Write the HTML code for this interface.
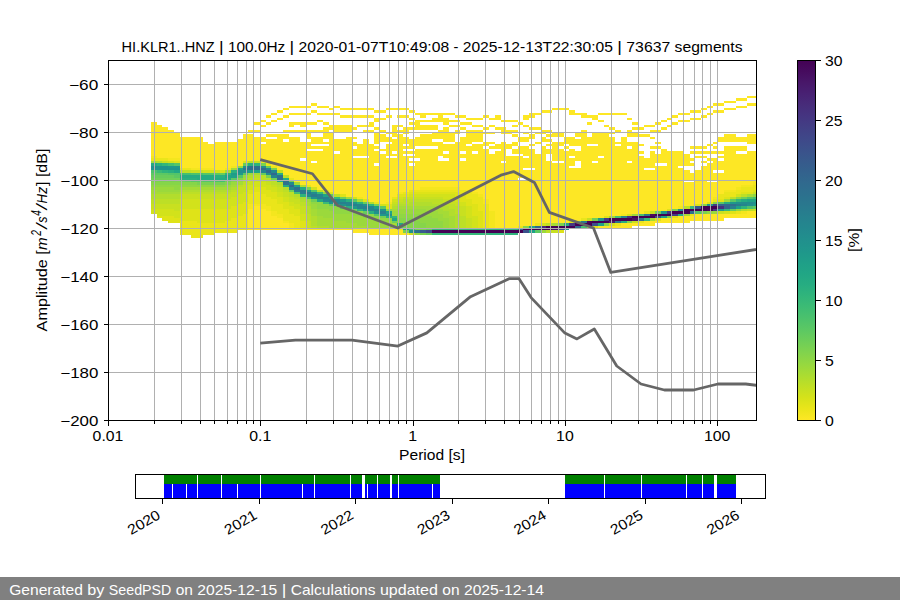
<!DOCTYPE html>
<html><head><meta charset="utf-8"><title>PPSD</title>
<style>
html,body{margin:0;padding:0;background:#fff}
body{width:900px;height:600px;overflow:hidden;font-family:"Liberation Sans",sans-serif}
svg{display:block}
text{font-family:"Liberation Sans",sans-serif;font-size:14.2px;fill:#000}
</style></head><body>
<svg width="900" height="600" viewBox="0 0 900 600">
<defs><clipPath id="axclip"><rect x="108" y="60" width="648" height="360"/></clipPath>
<linearGradient id="cbg" x1="0" y1="1" x2="0" y2="0"><stop offset="0.0000" stop-color="#fde725"/><stop offset="0.0312" stop-color="#eae51a"/><stop offset="0.0625" stop-color="#d5e21a"/><stop offset="0.0938" stop-color="#c0df25"/><stop offset="0.1250" stop-color="#aadc32"/><stop offset="0.1562" stop-color="#95d840"/><stop offset="0.1875" stop-color="#81d34d"/><stop offset="0.2188" stop-color="#6ece58"/><stop offset="0.2500" stop-color="#5cc863"/><stop offset="0.2812" stop-color="#4cc26c"/><stop offset="0.3125" stop-color="#3dbc74"/><stop offset="0.3438" stop-color="#31b57b"/><stop offset="0.3750" stop-color="#27ad81"/><stop offset="0.4062" stop-color="#21a685"/><stop offset="0.4375" stop-color="#1f9f88"/><stop offset="0.4688" stop-color="#1f978b"/><stop offset="0.5000" stop-color="#21908d"/><stop offset="0.5312" stop-color="#23888e"/><stop offset="0.5625" stop-color="#26818e"/><stop offset="0.5938" stop-color="#29798e"/><stop offset="0.6250" stop-color="#2c718e"/><stop offset="0.6562" stop-color="#306a8e"/><stop offset="0.6875" stop-color="#33628d"/><stop offset="0.7188" stop-color="#375a8c"/><stop offset="0.7500" stop-color="#3b518b"/><stop offset="0.7812" stop-color="#3f4889"/><stop offset="0.8125" stop-color="#423f85"/><stop offset="0.8438" stop-color="#453581"/><stop offset="0.8750" stop-color="#472c7a"/><stop offset="0.9062" stop-color="#482173"/><stop offset="0.9375" stop-color="#481769"/><stop offset="0.9688" stop-color="#460b5e"/><stop offset="1.0000" stop-color="#440154"/></linearGradient></defs>
<rect x="0" y="0" width="900" height="600" fill="#fff"/>
<g clip-path="url(#axclip)" shape-rendering="crispEdges">
<rect x="747" y="96" width="11" height="2" fill="#fde725"/>
<rect x="736" y="98" width="11" height="3" fill="#fde725"/>
<rect x="724" y="101" width="12" height="2" fill="#fde725"/>
<rect x="311" y="103" width="6" height="3" fill="#fde725"/>
<rect x="713" y="103" width="11" height="3" fill="#fde725"/>
<rect x="747" y="103" width="11" height="3" fill="#fde725"/>
<rect x="289" y="106" width="22" height="2" fill="#fde725"/>
<rect x="317" y="106" width="12" height="2" fill="#fde725"/>
<rect x="334" y="106" width="6" height="2" fill="#fde725"/>
<rect x="707" y="106" width="6" height="2" fill="#fde725"/>
<rect x="736" y="106" width="11" height="2" fill="#fde725"/>
<rect x="283" y="108" width="6" height="2" fill="#fde725"/>
<rect x="329" y="108" width="5" height="2" fill="#fde725"/>
<rect x="340" y="108" width="34" height="2" fill="#fde725"/>
<rect x="386" y="108" width="23" height="2" fill="#fde725"/>
<rect x="552" y="108" width="17" height="2" fill="#fde725"/>
<rect x="701" y="108" width="6" height="2" fill="#fde725"/>
<rect x="724" y="108" width="12" height="2" fill="#fde725"/>
<rect x="277" y="110" width="6" height="3" fill="#fde725"/>
<rect x="311" y="110" width="6" height="3" fill="#fde725"/>
<rect x="374" y="110" width="12" height="3" fill="#fde725"/>
<rect x="409" y="110" width="6" height="3" fill="#fde725"/>
<rect x="541" y="110" width="11" height="3" fill="#fde725"/>
<rect x="569" y="110" width="6" height="3" fill="#fde725"/>
<rect x="690" y="110" width="11" height="3" fill="#fde725"/>
<rect x="713" y="110" width="11" height="3" fill="#fde725"/>
<rect x="271" y="113" width="6" height="2" fill="#fde725"/>
<rect x="289" y="113" width="22" height="2" fill="#fde725"/>
<rect x="317" y="113" width="23" height="2" fill="#fde725"/>
<rect x="415" y="113" width="40" height="2" fill="#fde725"/>
<rect x="529" y="113" width="12" height="2" fill="#fde725"/>
<rect x="569" y="113" width="18" height="2" fill="#fde725"/>
<rect x="598" y="113" width="29" height="2" fill="#fde725"/>
<rect x="678" y="113" width="12" height="2" fill="#fde725"/>
<rect x="707" y="113" width="6" height="2" fill="#fde725"/>
<rect x="266" y="115" width="5" height="3" fill="#fde725"/>
<rect x="283" y="115" width="6" height="3" fill="#fde725"/>
<rect x="340" y="115" width="34" height="3" fill="#fde725"/>
<rect x="386" y="115" width="6" height="3" fill="#fde725"/>
<rect x="397" y="115" width="12" height="3" fill="#fde725"/>
<rect x="420" y="115" width="6" height="3" fill="#fde725"/>
<rect x="438" y="115" width="5" height="3" fill="#fde725"/>
<rect x="455" y="115" width="11" height="3" fill="#fde725"/>
<rect x="483" y="115" width="6" height="3" fill="#fde725"/>
<rect x="495" y="115" width="6" height="3" fill="#fde725"/>
<rect x="523" y="115" width="12" height="3" fill="#fde725"/>
<rect x="581" y="115" width="17" height="3" fill="#fde725"/>
<rect x="672" y="115" width="6" height="3" fill="#fde725"/>
<rect x="701" y="115" width="6" height="3" fill="#fde725"/>
<rect x="277" y="118" width="6" height="2" fill="#fde725"/>
<rect x="374" y="118" width="12" height="2" fill="#fde725"/>
<rect x="409" y="118" width="6" height="2" fill="#fde725"/>
<rect x="432" y="118" width="17" height="2" fill="#fde725"/>
<rect x="466" y="118" width="17" height="2" fill="#fde725"/>
<rect x="489" y="118" width="12" height="2" fill="#fde725"/>
<rect x="523" y="118" width="6" height="2" fill="#fde725"/>
<rect x="592" y="118" width="6" height="2" fill="#fde725"/>
<rect x="627" y="118" width="5" height="2" fill="#fde725"/>
<rect x="667" y="118" width="5" height="2" fill="#fde725"/>
<rect x="690" y="118" width="11" height="2" fill="#fde725"/>
<rect x="260" y="120" width="6" height="2" fill="#fde725"/>
<rect x="271" y="120" width="6" height="2" fill="#fde725"/>
<rect x="317" y="120" width="6" height="2" fill="#fde725"/>
<rect x="374" y="120" width="6" height="2" fill="#fde725"/>
<rect x="415" y="120" width="45" height="2" fill="#fde725"/>
<rect x="501" y="120" width="17" height="2" fill="#fde725"/>
<rect x="598" y="120" width="6" height="2" fill="#fde725"/>
<rect x="661" y="120" width="6" height="2" fill="#fde725"/>
<rect x="678" y="120" width="12" height="2" fill="#fde725"/>
<rect x="151" y="122" width="6" height="3" fill="#fde725"/>
<rect x="254" y="122" width="6" height="3" fill="#fde725"/>
<rect x="266" y="122" width="5" height="3" fill="#fde725"/>
<rect x="289" y="122" width="28" height="3" fill="#fde725"/>
<rect x="323" y="122" width="6" height="3" fill="#fde725"/>
<rect x="369" y="122" width="5" height="3" fill="#fde725"/>
<rect x="409" y="122" width="11" height="3" fill="#fde725"/>
<rect x="443" y="122" width="6" height="3" fill="#fde725"/>
<rect x="460" y="122" width="12" height="3" fill="#fde725"/>
<rect x="518" y="122" width="5" height="3" fill="#fde725"/>
<rect x="587" y="122" width="5" height="3" fill="#fde725"/>
<rect x="632" y="122" width="6" height="3" fill="#fde725"/>
<rect x="655" y="122" width="6" height="3" fill="#fde725"/>
<rect x="672" y="122" width="6" height="3" fill="#fde725"/>
<rect x="151" y="125" width="11" height="2" fill="#fde725"/>
<rect x="260" y="125" width="6" height="2" fill="#fde725"/>
<rect x="289" y="125" width="5" height="2" fill="#fde725"/>
<rect x="300" y="125" width="6" height="2" fill="#fde725"/>
<rect x="329" y="125" width="23" height="2" fill="#fde725"/>
<rect x="357" y="125" width="17" height="2" fill="#fde725"/>
<rect x="392" y="125" width="11" height="2" fill="#fde725"/>
<rect x="415" y="125" width="23" height="2" fill="#fde725"/>
<rect x="449" y="125" width="11" height="2" fill="#fde725"/>
<rect x="472" y="125" width="11" height="2" fill="#fde725"/>
<rect x="489" y="125" width="6" height="2" fill="#fde725"/>
<rect x="512" y="125" width="6" height="2" fill="#fde725"/>
<rect x="523" y="125" width="6" height="2" fill="#fde725"/>
<rect x="604" y="125" width="5" height="2" fill="#fde725"/>
<rect x="644" y="125" width="11" height="2" fill="#fde725"/>
<rect x="667" y="125" width="5" height="2" fill="#fde725"/>
<rect x="151" y="127" width="17" height="3" fill="#fde725"/>
<rect x="323" y="127" width="34" height="3" fill="#fde725"/>
<rect x="374" y="127" width="6" height="3" fill="#fde725"/>
<rect x="392" y="127" width="5" height="3" fill="#fde725"/>
<rect x="403" y="127" width="35" height="3" fill="#fde725"/>
<rect x="443" y="127" width="6" height="3" fill="#fde725"/>
<rect x="460" y="127" width="6" height="3" fill="#fde725"/>
<rect x="483" y="127" width="6" height="3" fill="#fde725"/>
<rect x="495" y="127" width="11" height="3" fill="#fde725"/>
<rect x="529" y="127" width="12" height="3" fill="#fde725"/>
<rect x="609" y="127" width="6" height="3" fill="#fde725"/>
<rect x="632" y="127" width="12" height="3" fill="#fde725"/>
<rect x="661" y="127" width="6" height="3" fill="#fde725"/>
<rect x="151" y="130" width="23" height="2" fill="#fde725"/>
<rect x="248" y="130" width="12" height="2" fill="#fde725"/>
<rect x="283" y="130" width="46" height="2" fill="#fde725"/>
<rect x="334" y="130" width="18" height="2" fill="#fde725"/>
<rect x="363" y="130" width="11" height="2" fill="#fde725"/>
<rect x="380" y="130" width="6" height="2" fill="#fde725"/>
<rect x="392" y="130" width="17" height="2" fill="#fde725"/>
<rect x="438" y="130" width="11" height="2" fill="#fde725"/>
<rect x="455" y="130" width="5" height="2" fill="#fde725"/>
<rect x="466" y="130" width="17" height="2" fill="#fde725"/>
<rect x="501" y="130" width="17" height="2" fill="#fde725"/>
<rect x="541" y="130" width="11" height="2" fill="#fde725"/>
<rect x="581" y="130" width="6" height="2" fill="#fde725"/>
<rect x="615" y="130" width="6" height="2" fill="#fde725"/>
<rect x="627" y="130" width="5" height="2" fill="#fde725"/>
<rect x="650" y="130" width="11" height="2" fill="#fde725"/>
<rect x="151" y="132" width="29" height="2" fill="#fde725"/>
<rect x="306" y="132" width="5" height="2" fill="#fde725"/>
<rect x="323" y="132" width="11" height="2" fill="#fde725"/>
<rect x="374" y="132" width="6" height="2" fill="#fde725"/>
<rect x="386" y="132" width="11" height="2" fill="#fde725"/>
<rect x="403" y="132" width="6" height="2" fill="#fde725"/>
<rect x="432" y="132" width="28" height="2" fill="#fde725"/>
<rect x="466" y="132" width="29" height="2" fill="#fde725"/>
<rect x="501" y="132" width="11" height="2" fill="#fde725"/>
<rect x="523" y="132" width="6" height="2" fill="#fde725"/>
<rect x="535" y="132" width="11" height="2" fill="#fde725"/>
<rect x="552" y="132" width="12" height="2" fill="#fde725"/>
<rect x="575" y="132" width="12" height="2" fill="#fde725"/>
<rect x="592" y="132" width="23" height="2" fill="#fde725"/>
<rect x="627" y="132" width="11" height="2" fill="#fde725"/>
<rect x="151" y="134" width="29" height="3" fill="#fde725"/>
<rect x="243" y="134" width="11" height="3" fill="#fde725"/>
<rect x="266" y="134" width="23" height="3" fill="#fde725"/>
<rect x="306" y="134" width="5" height="3" fill="#fde725"/>
<rect x="323" y="134" width="11" height="3" fill="#fde725"/>
<rect x="374" y="134" width="12" height="3" fill="#fde725"/>
<rect x="392" y="134" width="11" height="3" fill="#fde725"/>
<rect x="420" y="134" width="35" height="3" fill="#fde725"/>
<rect x="466" y="134" width="17" height="3" fill="#fde725"/>
<rect x="512" y="134" width="6" height="3" fill="#fde725"/>
<rect x="529" y="134" width="6" height="3" fill="#fde725"/>
<rect x="546" y="134" width="18" height="3" fill="#fde725"/>
<rect x="575" y="134" width="12" height="3" fill="#fde725"/>
<rect x="592" y="134" width="17" height="3" fill="#fde725"/>
<rect x="627" y="134" width="23" height="3" fill="#fde725"/>
<rect x="724" y="134" width="12" height="3" fill="#fde725"/>
<rect x="747" y="134" width="11" height="3" fill="#fde725"/>
<rect x="151" y="137" width="52" height="2" fill="#fde725"/>
<rect x="243" y="137" width="23" height="2" fill="#fde725"/>
<rect x="277" y="137" width="23" height="2" fill="#fde725"/>
<rect x="306" y="137" width="28" height="2" fill="#fde725"/>
<rect x="346" y="137" width="11" height="2" fill="#fde725"/>
<rect x="374" y="137" width="18" height="2" fill="#fde725"/>
<rect x="397" y="137" width="12" height="2" fill="#fde725"/>
<rect x="415" y="137" width="40" height="2" fill="#fde725"/>
<rect x="460" y="137" width="23" height="2" fill="#fde725"/>
<rect x="518" y="137" width="17" height="2" fill="#fde725"/>
<rect x="541" y="137" width="5" height="2" fill="#fde725"/>
<rect x="564" y="137" width="11" height="2" fill="#fde725"/>
<rect x="581" y="137" width="34" height="2" fill="#fde725"/>
<rect x="621" y="137" width="6" height="2" fill="#fde725"/>
<rect x="650" y="137" width="5" height="2" fill="#fde725"/>
<rect x="718" y="137" width="40" height="2" fill="#fde725"/>
<rect x="151" y="139" width="52" height="3" fill="#fde725"/>
<rect x="237" y="139" width="46" height="3" fill="#fde725"/>
<rect x="289" y="139" width="11" height="3" fill="#fde725"/>
<rect x="311" y="139" width="12" height="3" fill="#fde725"/>
<rect x="329" y="139" width="23" height="3" fill="#fde725"/>
<rect x="363" y="139" width="6" height="3" fill="#fde725"/>
<rect x="374" y="139" width="58" height="3" fill="#fde725"/>
<rect x="443" y="139" width="12" height="3" fill="#fde725"/>
<rect x="460" y="139" width="23" height="3" fill="#fde725"/>
<rect x="518" y="139" width="11" height="3" fill="#fde725"/>
<rect x="541" y="139" width="11" height="3" fill="#fde725"/>
<rect x="564" y="139" width="51" height="3" fill="#fde725"/>
<rect x="621" y="139" width="6" height="3" fill="#fde725"/>
<rect x="718" y="139" width="40" height="3" fill="#fde725"/>
<rect x="151" y="142" width="57" height="2" fill="#fde725"/>
<rect x="214" y="142" width="46" height="2" fill="#fde725"/>
<rect x="266" y="142" width="91" height="2" fill="#fde725"/>
<rect x="363" y="142" width="6" height="2" fill="#fde725"/>
<rect x="374" y="142" width="6" height="2" fill="#fde725"/>
<rect x="392" y="142" width="51" height="2" fill="#fde725"/>
<rect x="455" y="142" width="17" height="2" fill="#fde725"/>
<rect x="483" y="142" width="12" height="2" fill="#fde725"/>
<rect x="501" y="142" width="5" height="2" fill="#fde725"/>
<rect x="512" y="142" width="6" height="2" fill="#fde725"/>
<rect x="535" y="142" width="6" height="2" fill="#fde725"/>
<rect x="552" y="142" width="86" height="2" fill="#fde725"/>
<rect x="655" y="142" width="6" height="2" fill="#fde725"/>
<rect x="713" y="142" width="5" height="2" fill="#fde725"/>
<rect x="747" y="142" width="11" height="2" fill="#fde725"/>
<rect x="151" y="144" width="160" height="2" fill="#fde725"/>
<rect x="329" y="144" width="45" height="2" fill="#fde725"/>
<rect x="386" y="144" width="17" height="2" fill="#fde725"/>
<rect x="409" y="144" width="57" height="2" fill="#fde725"/>
<rect x="472" y="144" width="17" height="2" fill="#fde725"/>
<rect x="495" y="144" width="23" height="2" fill="#fde725"/>
<rect x="529" y="144" width="6" height="2" fill="#fde725"/>
<rect x="546" y="144" width="18" height="2" fill="#fde725"/>
<rect x="569" y="144" width="18" height="2" fill="#fde725"/>
<rect x="598" y="144" width="17" height="2" fill="#fde725"/>
<rect x="621" y="144" width="23" height="2" fill="#fde725"/>
<rect x="707" y="144" width="6" height="2" fill="#fde725"/>
<rect x="151" y="146" width="201" height="3" fill="#fde725"/>
<rect x="357" y="146" width="23" height="3" fill="#fde725"/>
<rect x="386" y="146" width="29" height="3" fill="#fde725"/>
<rect x="438" y="146" width="45" height="3" fill="#fde725"/>
<rect x="489" y="146" width="23" height="3" fill="#fde725"/>
<rect x="518" y="146" width="11" height="3" fill="#fde725"/>
<rect x="541" y="146" width="5" height="3" fill="#fde725"/>
<rect x="552" y="146" width="6" height="3" fill="#fde725"/>
<rect x="564" y="146" width="5" height="3" fill="#fde725"/>
<rect x="581" y="146" width="46" height="3" fill="#fde725"/>
<rect x="632" y="146" width="6" height="3" fill="#fde725"/>
<rect x="650" y="146" width="11" height="3" fill="#fde725"/>
<rect x="690" y="146" width="17" height="3" fill="#fde725"/>
<rect x="713" y="146" width="5" height="3" fill="#fde725"/>
<rect x="724" y="146" width="23" height="3" fill="#fde725"/>
<rect x="151" y="149" width="155" height="2" fill="#fde725"/>
<rect x="323" y="149" width="51" height="2" fill="#fde725"/>
<rect x="380" y="149" width="23" height="2" fill="#fde725"/>
<rect x="415" y="149" width="74" height="2" fill="#fde725"/>
<rect x="501" y="149" width="5" height="2" fill="#fde725"/>
<rect x="512" y="149" width="23" height="2" fill="#fde725"/>
<rect x="541" y="149" width="23" height="2" fill="#fde725"/>
<rect x="569" y="149" width="6" height="2" fill="#fde725"/>
<rect x="581" y="149" width="57" height="2" fill="#fde725"/>
<rect x="661" y="149" width="6" height="2" fill="#fde725"/>
<rect x="724" y="149" width="23" height="2" fill="#fde725"/>
<rect x="151" y="151" width="183" height="3" fill="#fde725"/>
<rect x="340" y="151" width="40" height="3" fill="#fde725"/>
<rect x="386" y="151" width="6" height="3" fill="#fde725"/>
<rect x="397" y="151" width="46" height="3" fill="#fde725"/>
<rect x="449" y="151" width="11" height="3" fill="#fde725"/>
<rect x="466" y="151" width="6" height="3" fill="#fde725"/>
<rect x="478" y="151" width="11" height="3" fill="#fde725"/>
<rect x="495" y="151" width="11" height="3" fill="#fde725"/>
<rect x="512" y="151" width="23" height="3" fill="#fde725"/>
<rect x="541" y="151" width="103" height="3" fill="#fde725"/>
<rect x="650" y="151" width="5" height="3" fill="#fde725"/>
<rect x="661" y="151" width="23" height="3" fill="#fde725"/>
<rect x="690" y="151" width="46" height="3" fill="#fde725"/>
<rect x="747" y="151" width="11" height="3" fill="#fde725"/>
<rect x="151" y="154" width="252" height="2" fill="#fde725"/>
<rect x="415" y="154" width="91" height="2" fill="#fde725"/>
<rect x="523" y="154" width="23" height="2" fill="#fde725"/>
<rect x="552" y="154" width="86" height="2" fill="#fde725"/>
<rect x="650" y="154" width="40" height="2" fill="#fde725"/>
<rect x="724" y="154" width="34" height="2" fill="#fde725"/>
<rect x="151" y="156" width="6" height="2" fill="#f4e61e"/>
<rect x="157" y="156" width="195" height="2" fill="#fde725"/>
<rect x="369" y="156" width="17" height="2" fill="#fde725"/>
<rect x="397" y="156" width="41" height="2" fill="#fde725"/>
<rect x="443" y="156" width="80" height="2" fill="#fde725"/>
<rect x="529" y="156" width="17" height="2" fill="#fde725"/>
<rect x="552" y="156" width="17" height="2" fill="#fde725"/>
<rect x="575" y="156" width="23" height="2" fill="#fde725"/>
<rect x="604" y="156" width="40" height="2" fill="#fde725"/>
<rect x="650" y="156" width="40" height="2" fill="#fde725"/>
<rect x="695" y="156" width="12" height="2" fill="#fde725"/>
<rect x="718" y="156" width="40" height="2" fill="#fde725"/>
<rect x="151" y="158" width="17" height="3" fill="#eae51a"/>
<rect x="168" y="158" width="12" height="3" fill="#f4e61e"/>
<rect x="180" y="158" width="120" height="3" fill="#fde725"/>
<rect x="306" y="158" width="103" height="3" fill="#fde725"/>
<rect x="420" y="158" width="18" height="3" fill="#fde725"/>
<rect x="449" y="158" width="11" height="3" fill="#fde725"/>
<rect x="466" y="158" width="80" height="3" fill="#fde725"/>
<rect x="552" y="158" width="143" height="3" fill="#fde725"/>
<rect x="707" y="158" width="11" height="3" fill="#fde725"/>
<rect x="724" y="158" width="34" height="3" fill="#fde725"/>
<rect x="151" y="161" width="6" height="2" fill="#a5db36"/>
<rect x="157" y="161" width="5" height="2" fill="#b2dd2d"/>
<rect x="162" y="161" width="6" height="2" fill="#c8e020"/>
<rect x="168" y="161" width="6" height="2" fill="#d2e21b"/>
<rect x="174" y="161" width="6" height="2" fill="#dfe318"/>
<rect x="180" y="161" width="63" height="2" fill="#fde725"/>
<rect x="243" y="161" width="5" height="2" fill="#dfe318"/>
<rect x="248" y="161" width="6" height="2" fill="#bddf26"/>
<rect x="254" y="161" width="6" height="2" fill="#c8e020"/>
<rect x="260" y="161" width="6" height="2" fill="#eae51a"/>
<rect x="266" y="161" width="45" height="2" fill="#fde725"/>
<rect x="317" y="161" width="184" height="2" fill="#fde725"/>
<rect x="506" y="161" width="46" height="2" fill="#fde725"/>
<rect x="564" y="161" width="11" height="2" fill="#fde725"/>
<rect x="581" y="161" width="11" height="2" fill="#fde725"/>
<rect x="598" y="161" width="29" height="2" fill="#fde725"/>
<rect x="632" y="161" width="58" height="2" fill="#fde725"/>
<rect x="701" y="161" width="6" height="2" fill="#fde725"/>
<rect x="713" y="161" width="45" height="2" fill="#fde725"/>
<rect x="151" y="163" width="6" height="3" fill="#22a884"/>
<rect x="157" y="163" width="5" height="3" fill="#2ab07f"/>
<rect x="162" y="163" width="6" height="3" fill="#35b779"/>
<rect x="168" y="163" width="6" height="3" fill="#44bf70"/>
<rect x="174" y="163" width="6" height="3" fill="#54c568"/>
<rect x="180" y="163" width="63" height="3" fill="#fde725"/>
<rect x="243" y="163" width="5" height="3" fill="#67cc5c"/>
<rect x="248" y="163" width="6" height="3" fill="#2ab07f"/>
<rect x="254" y="163" width="6" height="3" fill="#2fb47c"/>
<rect x="260" y="163" width="6" height="3" fill="#7ad151"/>
<rect x="266" y="163" width="5" height="3" fill="#eae51a"/>
<rect x="271" y="163" width="103" height="3" fill="#fde725"/>
<rect x="380" y="163" width="29" height="3" fill="#fde725"/>
<rect x="415" y="163" width="160" height="3" fill="#fde725"/>
<rect x="581" y="163" width="74" height="3" fill="#fde725"/>
<rect x="667" y="163" width="28" height="3" fill="#fde725"/>
<rect x="707" y="163" width="51" height="3" fill="#fde725"/>
<rect x="151" y="166" width="6" height="2" fill="#21908d"/>
<rect x="157" y="166" width="11" height="2" fill="#1f948c"/>
<rect x="168" y="166" width="12" height="2" fill="#1f988b"/>
<rect x="180" y="166" width="51" height="2" fill="#fde725"/>
<rect x="231" y="166" width="6" height="2" fill="#f4e61e"/>
<rect x="237" y="166" width="6" height="2" fill="#9bd93c"/>
<rect x="243" y="166" width="5" height="2" fill="#21908d"/>
<rect x="248" y="166" width="12" height="2" fill="#2d708e"/>
<rect x="260" y="166" width="6" height="2" fill="#228c8d"/>
<rect x="266" y="166" width="5" height="2" fill="#67cc5c"/>
<rect x="271" y="166" width="6" height="2" fill="#eae51a"/>
<rect x="277" y="166" width="292" height="2" fill="#fde725"/>
<rect x="581" y="166" width="97" height="2" fill="#fde725"/>
<rect x="701" y="166" width="57" height="2" fill="#fde725"/>
<rect x="151" y="168" width="29" height="2" fill="#1f948c"/>
<rect x="180" y="168" width="11" height="2" fill="#eae51a"/>
<rect x="191" y="168" width="23" height="2" fill="#f4e61e"/>
<rect x="214" y="168" width="11" height="2" fill="#fde725"/>
<rect x="225" y="168" width="6" height="2" fill="#f4e61e"/>
<rect x="231" y="168" width="6" height="2" fill="#a5db36"/>
<rect x="237" y="168" width="6" height="2" fill="#20a486"/>
<rect x="243" y="168" width="5" height="2" fill="#2a788e"/>
<rect x="248" y="168" width="12" height="2" fill="#2f6c8e"/>
<rect x="260" y="168" width="6" height="2" fill="#31688e"/>
<rect x="266" y="168" width="5" height="2" fill="#25848e"/>
<rect x="271" y="168" width="6" height="2" fill="#7ad151"/>
<rect x="277" y="168" width="246" height="2" fill="#fde725"/>
<rect x="535" y="168" width="109" height="2" fill="#fde725"/>
<rect x="655" y="168" width="29" height="2" fill="#fde725"/>
<rect x="701" y="168" width="57" height="2" fill="#fde725"/>
<rect x="151" y="170" width="6" height="3" fill="#4cc26c"/>
<rect x="157" y="170" width="5" height="3" fill="#3bbb75"/>
<rect x="162" y="170" width="6" height="3" fill="#2fb47c"/>
<rect x="168" y="170" width="6" height="3" fill="#2ab07f"/>
<rect x="174" y="170" width="6" height="3" fill="#22a884"/>
<rect x="180" y="170" width="11" height="3" fill="#bddf26"/>
<rect x="191" y="170" width="12" height="3" fill="#c8e020"/>
<rect x="203" y="170" width="17" height="3" fill="#d2e21b"/>
<rect x="220" y="170" width="5" height="3" fill="#dfe318"/>
<rect x="225" y="170" width="6" height="3" fill="#a5db36"/>
<rect x="231" y="170" width="6" height="3" fill="#2ab07f"/>
<rect x="237" y="170" width="11" height="3" fill="#21908d"/>
<rect x="248" y="170" width="6" height="3" fill="#1e9c89"/>
<rect x="254" y="170" width="6" height="3" fill="#20a486"/>
<rect x="260" y="170" width="6" height="3" fill="#25848e"/>
<rect x="266" y="170" width="5" height="3" fill="#31688e"/>
<rect x="271" y="170" width="6" height="3" fill="#23888e"/>
<rect x="277" y="170" width="6" height="3" fill="#bddf26"/>
<rect x="283" y="170" width="407" height="3" fill="#fde725"/>
<rect x="695" y="170" width="18" height="3" fill="#fde725"/>
<rect x="724" y="170" width="34" height="3" fill="#fde725"/>
<rect x="151" y="173" width="17" height="2" fill="#5cc863"/>
<rect x="168" y="173" width="12" height="2" fill="#54c568"/>
<rect x="180" y="173" width="11" height="2" fill="#44bf70"/>
<rect x="191" y="173" width="12" height="2" fill="#4cc26c"/>
<rect x="203" y="173" width="11" height="2" fill="#54c568"/>
<rect x="214" y="173" width="6" height="2" fill="#5cc863"/>
<rect x="220" y="173" width="5" height="2" fill="#67cc5c"/>
<rect x="225" y="173" width="6" height="2" fill="#2fb47c"/>
<rect x="231" y="173" width="6" height="2" fill="#1e9c89"/>
<rect x="237" y="173" width="6" height="2" fill="#1f988b"/>
<rect x="243" y="173" width="5" height="2" fill="#5cc863"/>
<rect x="248" y="173" width="6" height="2" fill="#9bd93c"/>
<rect x="254" y="173" width="6" height="2" fill="#a5db36"/>
<rect x="260" y="173" width="6" height="2" fill="#67cc5c"/>
<rect x="266" y="173" width="5" height="2" fill="#228c8d"/>
<rect x="271" y="173" width="6" height="2" fill="#31688e"/>
<rect x="277" y="173" width="6" height="2" fill="#2ab07f"/>
<rect x="283" y="173" width="475" height="2" fill="#fde725"/>
<rect x="151" y="175" width="23" height="3" fill="#67cc5c"/>
<rect x="174" y="175" width="6" height="3" fill="#5cc863"/>
<rect x="180" y="175" width="34" height="3" fill="#25ac82"/>
<rect x="214" y="175" width="11" height="3" fill="#2ab07f"/>
<rect x="225" y="175" width="6" height="3" fill="#20a486"/>
<rect x="231" y="175" width="6" height="3" fill="#1fa188"/>
<rect x="237" y="175" width="6" height="3" fill="#54c568"/>
<rect x="243" y="175" width="5" height="3" fill="#9bd93c"/>
<rect x="248" y="175" width="6" height="3" fill="#b2dd2d"/>
<rect x="254" y="175" width="12" height="3" fill="#bddf26"/>
<rect x="266" y="175" width="5" height="3" fill="#7ad151"/>
<rect x="271" y="175" width="6" height="3" fill="#25848e"/>
<rect x="277" y="175" width="6" height="3" fill="#2d708e"/>
<rect x="283" y="175" width="6" height="3" fill="#bddf26"/>
<rect x="289" y="175" width="469" height="3" fill="#fde725"/>
<rect x="151" y="178" width="29" height="2" fill="#70cf57"/>
<rect x="180" y="178" width="17" height="2" fill="#2ab07f"/>
<rect x="197" y="178" width="34" height="2" fill="#25ac82"/>
<rect x="231" y="178" width="6" height="2" fill="#5cc863"/>
<rect x="237" y="178" width="6" height="2" fill="#86d549"/>
<rect x="243" y="178" width="5" height="2" fill="#a5db36"/>
<rect x="248" y="178" width="6" height="2" fill="#bddf26"/>
<rect x="254" y="178" width="6" height="2" fill="#c8e020"/>
<rect x="260" y="178" width="11" height="2" fill="#bddf26"/>
<rect x="271" y="178" width="6" height="2" fill="#70cf57"/>
<rect x="277" y="178" width="6" height="2" fill="#2f6c8e"/>
<rect x="283" y="178" width="6" height="2" fill="#25ac82"/>
<rect x="289" y="178" width="5" height="2" fill="#eae51a"/>
<rect x="294" y="178" width="224" height="2" fill="#fde725"/>
<rect x="529" y="178" width="229" height="2" fill="#fde725"/>
<rect x="151" y="180" width="29" height="2" fill="#7ad151"/>
<rect x="180" y="180" width="5" height="2" fill="#70cf57"/>
<rect x="185" y="180" width="6" height="2" fill="#67cc5c"/>
<rect x="191" y="180" width="12" height="2" fill="#5cc863"/>
<rect x="203" y="180" width="11" height="2" fill="#54c568"/>
<rect x="214" y="180" width="6" height="2" fill="#4cc26c"/>
<rect x="220" y="180" width="5" height="2" fill="#44bf70"/>
<rect x="225" y="180" width="6" height="2" fill="#70cf57"/>
<rect x="231" y="180" width="6" height="2" fill="#86d549"/>
<rect x="237" y="180" width="6" height="2" fill="#9bd93c"/>
<rect x="243" y="180" width="5" height="2" fill="#b2dd2d"/>
<rect x="248" y="180" width="18" height="2" fill="#c8e020"/>
<rect x="266" y="180" width="11" height="2" fill="#bddf26"/>
<rect x="277" y="180" width="6" height="2" fill="#25ac82"/>
<rect x="283" y="180" width="6" height="2" fill="#2d708e"/>
<rect x="289" y="180" width="5" height="2" fill="#70cf57"/>
<rect x="294" y="180" width="390" height="2" fill="#fde725"/>
<rect x="695" y="180" width="12" height="2" fill="#fde725"/>
<rect x="718" y="180" width="40" height="2" fill="#fde725"/>
<rect x="151" y="182" width="46" height="3" fill="#86d549"/>
<rect x="197" y="182" width="28" height="3" fill="#7ad151"/>
<rect x="225" y="182" width="6" height="3" fill="#86d549"/>
<rect x="231" y="182" width="6" height="3" fill="#9bd93c"/>
<rect x="237" y="182" width="6" height="3" fill="#a5db36"/>
<rect x="243" y="182" width="5" height="3" fill="#bddf26"/>
<rect x="248" y="182" width="6" height="3" fill="#c8e020"/>
<rect x="254" y="182" width="12" height="3" fill="#d2e21b"/>
<rect x="266" y="182" width="5" height="3" fill="#c8e020"/>
<rect x="271" y="182" width="6" height="3" fill="#bddf26"/>
<rect x="277" y="182" width="6" height="3" fill="#b2dd2d"/>
<rect x="283" y="182" width="6" height="3" fill="#2d708e"/>
<rect x="289" y="182" width="5" height="3" fill="#23888e"/>
<rect x="294" y="182" width="6" height="3" fill="#a5db36"/>
<rect x="300" y="182" width="453" height="3" fill="#fde725"/>
<rect x="753" y="182" width="5" height="3" fill="#f4e61e"/>
<rect x="151" y="185" width="74" height="2" fill="#90d743"/>
<rect x="225" y="185" width="6" height="2" fill="#9bd93c"/>
<rect x="231" y="185" width="6" height="2" fill="#a5db36"/>
<rect x="237" y="185" width="6" height="2" fill="#bddf26"/>
<rect x="243" y="185" width="5" height="2" fill="#c8e020"/>
<rect x="248" y="185" width="23" height="2" fill="#d2e21b"/>
<rect x="271" y="185" width="6" height="2" fill="#c8e020"/>
<rect x="277" y="185" width="6" height="2" fill="#bddf26"/>
<rect x="283" y="185" width="6" height="2" fill="#25ac82"/>
<rect x="289" y="185" width="5" height="2" fill="#31688e"/>
<rect x="294" y="185" width="6" height="2" fill="#1fa188"/>
<rect x="300" y="185" width="6" height="2" fill="#b2dd2d"/>
<rect x="306" y="185" width="5" height="2" fill="#eae51a"/>
<rect x="311" y="185" width="430" height="2" fill="#fde725"/>
<rect x="741" y="185" width="12" height="2" fill="#f4e61e"/>
<rect x="753" y="185" width="5" height="2" fill="#eae51a"/>
<rect x="151" y="187" width="23" height="3" fill="#9bd93c"/>
<rect x="174" y="187" width="6" height="3" fill="#90d743"/>
<rect x="180" y="187" width="51" height="3" fill="#a5db36"/>
<rect x="231" y="187" width="6" height="3" fill="#b2dd2d"/>
<rect x="237" y="187" width="11" height="3" fill="#c8e020"/>
<rect x="248" y="187" width="6" height="3" fill="#d2e21b"/>
<rect x="254" y="187" width="12" height="3" fill="#dfe318"/>
<rect x="266" y="187" width="11" height="3" fill="#d2e21b"/>
<rect x="277" y="187" width="6" height="3" fill="#c8e020"/>
<rect x="283" y="187" width="6" height="3" fill="#b2dd2d"/>
<rect x="289" y="187" width="5" height="3" fill="#23888e"/>
<rect x="294" y="187" width="6" height="3" fill="#2d708e"/>
<rect x="300" y="187" width="6" height="3" fill="#25ac82"/>
<rect x="306" y="187" width="5" height="3" fill="#7ad151"/>
<rect x="311" y="187" width="6" height="3" fill="#d2e21b"/>
<rect x="317" y="187" width="103" height="3" fill="#fde725"/>
<rect x="420" y="187" width="40" height="3" fill="#f4e61e"/>
<rect x="460" y="187" width="276" height="3" fill="#fde725"/>
<rect x="736" y="187" width="5" height="3" fill="#f4e61e"/>
<rect x="741" y="187" width="17" height="3" fill="#eae51a"/>
<rect x="151" y="190" width="6" height="2" fill="#a5db36"/>
<rect x="157" y="190" width="23" height="2" fill="#9bd93c"/>
<rect x="180" y="190" width="51" height="2" fill="#b2dd2d"/>
<rect x="231" y="190" width="6" height="2" fill="#bddf26"/>
<rect x="237" y="190" width="11" height="2" fill="#c8e020"/>
<rect x="248" y="190" width="23" height="2" fill="#dfe318"/>
<rect x="271" y="190" width="6" height="2" fill="#d2e21b"/>
<rect x="277" y="190" width="6" height="2" fill="#c8e020"/>
<rect x="283" y="190" width="6" height="2" fill="#bddf26"/>
<rect x="289" y="190" width="5" height="2" fill="#70cf57"/>
<rect x="294" y="190" width="6" height="2" fill="#287c8e"/>
<rect x="300" y="190" width="6" height="2" fill="#2a788e"/>
<rect x="306" y="190" width="5" height="2" fill="#1f988b"/>
<rect x="311" y="190" width="6" height="2" fill="#54c568"/>
<rect x="317" y="190" width="6" height="2" fill="#bddf26"/>
<rect x="323" y="190" width="6" height="2" fill="#eae51a"/>
<rect x="329" y="190" width="80" height="2" fill="#fde725"/>
<rect x="409" y="190" width="57" height="2" fill="#eae51a"/>
<rect x="466" y="190" width="6" height="2" fill="#f4e61e"/>
<rect x="472" y="190" width="252" height="2" fill="#fde725"/>
<rect x="724" y="190" width="12" height="2" fill="#f4e61e"/>
<rect x="736" y="190" width="17" height="2" fill="#eae51a"/>
<rect x="753" y="190" width="5" height="2" fill="#dfe318"/>
<rect x="151" y="192" width="29" height="2" fill="#a5db36"/>
<rect x="180" y="192" width="51" height="2" fill="#bddf26"/>
<rect x="231" y="192" width="12" height="2" fill="#c8e020"/>
<rect x="243" y="192" width="5" height="2" fill="#d2e21b"/>
<rect x="248" y="192" width="6" height="2" fill="#dfe318"/>
<rect x="254" y="192" width="6" height="2" fill="#eae51a"/>
<rect x="260" y="192" width="17" height="2" fill="#dfe318"/>
<rect x="277" y="192" width="6" height="2" fill="#d2e21b"/>
<rect x="283" y="192" width="6" height="2" fill="#c8e020"/>
<rect x="289" y="192" width="5" height="2" fill="#bddf26"/>
<rect x="294" y="192" width="6" height="2" fill="#44bf70"/>
<rect x="300" y="192" width="6" height="2" fill="#287c8e"/>
<rect x="306" y="192" width="5" height="2" fill="#2a788e"/>
<rect x="311" y="192" width="6" height="2" fill="#228c8d"/>
<rect x="317" y="192" width="6" height="2" fill="#35b779"/>
<rect x="323" y="192" width="6" height="2" fill="#90d743"/>
<rect x="329" y="192" width="5" height="2" fill="#dfe318"/>
<rect x="334" y="192" width="63" height="2" fill="#fde725"/>
<rect x="397" y="192" width="6" height="2" fill="#f4e61e"/>
<rect x="403" y="192" width="6" height="2" fill="#eae51a"/>
<rect x="409" y="192" width="51" height="2" fill="#dfe318"/>
<rect x="460" y="192" width="12" height="2" fill="#eae51a"/>
<rect x="472" y="192" width="6" height="2" fill="#f4e61e"/>
<rect x="478" y="192" width="246" height="2" fill="#fde725"/>
<rect x="724" y="192" width="17" height="2" fill="#eae51a"/>
<rect x="741" y="192" width="12" height="2" fill="#dfe318"/>
<rect x="753" y="192" width="5" height="2" fill="#c8e020"/>
<rect x="151" y="194" width="29" height="3" fill="#b2dd2d"/>
<rect x="180" y="194" width="57" height="3" fill="#c8e020"/>
<rect x="237" y="194" width="11" height="3" fill="#d2e21b"/>
<rect x="248" y="194" width="18" height="3" fill="#eae51a"/>
<rect x="266" y="194" width="11" height="3" fill="#dfe318"/>
<rect x="277" y="194" width="6" height="3" fill="#d2e21b"/>
<rect x="283" y="194" width="6" height="3" fill="#c8e020"/>
<rect x="289" y="194" width="5" height="3" fill="#bddf26"/>
<rect x="294" y="194" width="6" height="3" fill="#b2dd2d"/>
<rect x="300" y="194" width="6" height="3" fill="#2fb47c"/>
<rect x="306" y="194" width="5" height="3" fill="#23888e"/>
<rect x="311" y="194" width="6" height="3" fill="#287c8e"/>
<rect x="317" y="194" width="6" height="3" fill="#25848e"/>
<rect x="323" y="194" width="6" height="3" fill="#20a486"/>
<rect x="329" y="194" width="5" height="3" fill="#67cc5c"/>
<rect x="334" y="194" width="6" height="3" fill="#bddf26"/>
<rect x="340" y="194" width="6" height="3" fill="#dfe318"/>
<rect x="346" y="194" width="51" height="3" fill="#fde725"/>
<rect x="397" y="194" width="12" height="3" fill="#dfe318"/>
<rect x="409" y="194" width="46" height="3" fill="#d2e21b"/>
<rect x="455" y="194" width="11" height="3" fill="#dfe318"/>
<rect x="466" y="194" width="12" height="3" fill="#eae51a"/>
<rect x="478" y="194" width="5" height="3" fill="#f4e61e"/>
<rect x="483" y="194" width="235" height="3" fill="#fde725"/>
<rect x="718" y="194" width="18" height="3" fill="#eae51a"/>
<rect x="736" y="194" width="5" height="3" fill="#d2e21b"/>
<rect x="741" y="194" width="6" height="3" fill="#bddf26"/>
<rect x="747" y="194" width="6" height="3" fill="#a5db36"/>
<rect x="753" y="194" width="5" height="3" fill="#90d743"/>
<rect x="151" y="197" width="29" height="2" fill="#b2dd2d"/>
<rect x="180" y="197" width="51" height="2" fill="#c8e020"/>
<rect x="231" y="197" width="17" height="2" fill="#d2e21b"/>
<rect x="248" y="197" width="23" height="2" fill="#eae51a"/>
<rect x="271" y="197" width="12" height="2" fill="#dfe318"/>
<rect x="283" y="197" width="6" height="2" fill="#d2e21b"/>
<rect x="289" y="197" width="5" height="2" fill="#c8e020"/>
<rect x="294" y="197" width="6" height="2" fill="#bddf26"/>
<rect x="300" y="197" width="6" height="2" fill="#a5db36"/>
<rect x="306" y="197" width="5" height="2" fill="#4cc26c"/>
<rect x="311" y="197" width="6" height="2" fill="#1f948c"/>
<rect x="317" y="197" width="12" height="2" fill="#27808e"/>
<rect x="329" y="197" width="5" height="2" fill="#1f988b"/>
<rect x="334" y="197" width="6" height="2" fill="#35b779"/>
<rect x="340" y="197" width="6" height="2" fill="#70cf57"/>
<rect x="346" y="197" width="6" height="2" fill="#a5db36"/>
<rect x="352" y="197" width="5" height="2" fill="#d2e21b"/>
<rect x="357" y="197" width="6" height="2" fill="#f4e61e"/>
<rect x="363" y="197" width="29" height="2" fill="#fde725"/>
<rect x="392" y="197" width="5" height="2" fill="#eae51a"/>
<rect x="397" y="197" width="6" height="2" fill="#d2e21b"/>
<rect x="403" y="197" width="40" height="2" fill="#c8e020"/>
<rect x="443" y="197" width="17" height="2" fill="#d2e21b"/>
<rect x="460" y="197" width="6" height="2" fill="#dfe318"/>
<rect x="466" y="197" width="17" height="2" fill="#eae51a"/>
<rect x="483" y="197" width="230" height="2" fill="#fde725"/>
<rect x="713" y="197" width="5" height="2" fill="#f4e61e"/>
<rect x="718" y="197" width="6" height="2" fill="#eae51a"/>
<rect x="724" y="197" width="6" height="2" fill="#dfe318"/>
<rect x="730" y="197" width="6" height="2" fill="#bddf26"/>
<rect x="736" y="197" width="5" height="2" fill="#90d743"/>
<rect x="741" y="197" width="6" height="2" fill="#70cf57"/>
<rect x="747" y="197" width="6" height="2" fill="#54c568"/>
<rect x="753" y="197" width="5" height="2" fill="#44bf70"/>
<rect x="151" y="199" width="29" height="3" fill="#bddf26"/>
<rect x="180" y="199" width="68" height="3" fill="#d2e21b"/>
<rect x="248" y="199" width="29" height="3" fill="#eae51a"/>
<rect x="277" y="199" width="6" height="3" fill="#dfe318"/>
<rect x="283" y="199" width="6" height="3" fill="#d2e21b"/>
<rect x="289" y="199" width="11" height="3" fill="#c8e020"/>
<rect x="300" y="199" width="6" height="3" fill="#b2dd2d"/>
<rect x="306" y="199" width="5" height="3" fill="#9bd93c"/>
<rect x="311" y="199" width="6" height="3" fill="#70cf57"/>
<rect x="317" y="199" width="6" height="3" fill="#22a884"/>
<rect x="323" y="199" width="6" height="3" fill="#23888e"/>
<rect x="329" y="199" width="5" height="3" fill="#27808e"/>
<rect x="334" y="199" width="6" height="3" fill="#23888e"/>
<rect x="340" y="199" width="6" height="3" fill="#1f988b"/>
<rect x="346" y="199" width="6" height="3" fill="#2ab07f"/>
<rect x="352" y="199" width="5" height="3" fill="#5cc863"/>
<rect x="357" y="199" width="6" height="3" fill="#a5db36"/>
<rect x="363" y="199" width="6" height="3" fill="#dfe318"/>
<rect x="369" y="199" width="23" height="3" fill="#fde725"/>
<rect x="392" y="199" width="5" height="3" fill="#d2e21b"/>
<rect x="397" y="199" width="6" height="3" fill="#c8e020"/>
<rect x="403" y="199" width="40" height="3" fill="#bddf26"/>
<rect x="443" y="199" width="12" height="3" fill="#c8e020"/>
<rect x="455" y="199" width="5" height="3" fill="#d2e21b"/>
<rect x="460" y="199" width="12" height="3" fill="#dfe318"/>
<rect x="472" y="199" width="11" height="3" fill="#eae51a"/>
<rect x="483" y="199" width="6" height="3" fill="#f4e61e"/>
<rect x="489" y="199" width="224" height="3" fill="#fde725"/>
<rect x="713" y="199" width="5" height="3" fill="#eae51a"/>
<rect x="718" y="199" width="6" height="3" fill="#dfe318"/>
<rect x="724" y="199" width="6" height="3" fill="#a5db36"/>
<rect x="730" y="199" width="6" height="3" fill="#5cc863"/>
<rect x="736" y="199" width="5" height="3" fill="#35b779"/>
<rect x="741" y="199" width="6" height="3" fill="#25ac82"/>
<rect x="747" y="199" width="11" height="3" fill="#20a486"/>
<rect x="151" y="202" width="29" height="2" fill="#bddf26"/>
<rect x="180" y="202" width="63" height="2" fill="#d2e21b"/>
<rect x="243" y="202" width="5" height="2" fill="#dfe318"/>
<rect x="248" y="202" width="29" height="2" fill="#eae51a"/>
<rect x="277" y="202" width="12" height="2" fill="#dfe318"/>
<rect x="289" y="202" width="5" height="2" fill="#d2e21b"/>
<rect x="294" y="202" width="6" height="2" fill="#c8e020"/>
<rect x="300" y="202" width="6" height="2" fill="#bddf26"/>
<rect x="306" y="202" width="5" height="2" fill="#a5db36"/>
<rect x="311" y="202" width="12" height="2" fill="#90d743"/>
<rect x="323" y="202" width="6" height="2" fill="#3bbb75"/>
<rect x="329" y="202" width="5" height="2" fill="#1f948c"/>
<rect x="334" y="202" width="6" height="2" fill="#25848e"/>
<rect x="340" y="202" width="6" height="2" fill="#27808e"/>
<rect x="346" y="202" width="6" height="2" fill="#25848e"/>
<rect x="352" y="202" width="5" height="2" fill="#1f948c"/>
<rect x="357" y="202" width="6" height="2" fill="#2ab07f"/>
<rect x="363" y="202" width="6" height="2" fill="#67cc5c"/>
<rect x="369" y="202" width="5" height="2" fill="#b2dd2d"/>
<rect x="374" y="202" width="6" height="2" fill="#eae51a"/>
<rect x="380" y="202" width="6" height="2" fill="#fde725"/>
<rect x="386" y="202" width="6" height="2" fill="#f4e61e"/>
<rect x="392" y="202" width="5" height="2" fill="#c8e020"/>
<rect x="397" y="202" width="12" height="2" fill="#bddf26"/>
<rect x="409" y="202" width="23" height="2" fill="#b2dd2d"/>
<rect x="432" y="202" width="17" height="2" fill="#bddf26"/>
<rect x="449" y="202" width="11" height="2" fill="#c8e020"/>
<rect x="460" y="202" width="6" height="2" fill="#d2e21b"/>
<rect x="466" y="202" width="6" height="2" fill="#dfe318"/>
<rect x="472" y="202" width="11" height="2" fill="#eae51a"/>
<rect x="483" y="202" width="6" height="2" fill="#f4e61e"/>
<rect x="489" y="202" width="218" height="2" fill="#fde725"/>
<rect x="707" y="202" width="6" height="2" fill="#dfe318"/>
<rect x="713" y="202" width="5" height="2" fill="#86d549"/>
<rect x="718" y="202" width="6" height="2" fill="#54c568"/>
<rect x="724" y="202" width="6" height="2" fill="#25ac82"/>
<rect x="730" y="202" width="6" height="2" fill="#1f988b"/>
<rect x="736" y="202" width="5" height="2" fill="#21908d"/>
<rect x="741" y="202" width="12" height="2" fill="#228c8d"/>
<rect x="753" y="202" width="5" height="2" fill="#21908d"/>
<rect x="151" y="204" width="29" height="2" fill="#c8e020"/>
<rect x="180" y="204" width="57" height="2" fill="#d2e21b"/>
<rect x="237" y="204" width="11" height="2" fill="#dfe318"/>
<rect x="248" y="204" width="18" height="2" fill="#f4e61e"/>
<rect x="266" y="204" width="17" height="2" fill="#eae51a"/>
<rect x="283" y="204" width="6" height="2" fill="#dfe318"/>
<rect x="289" y="204" width="11" height="2" fill="#d2e21b"/>
<rect x="300" y="204" width="6" height="2" fill="#bddf26"/>
<rect x="306" y="204" width="5" height="2" fill="#a5db36"/>
<rect x="311" y="204" width="6" height="2" fill="#9bd93c"/>
<rect x="317" y="204" width="12" height="2" fill="#90d743"/>
<rect x="329" y="204" width="5" height="2" fill="#67cc5c"/>
<rect x="334" y="204" width="6" height="2" fill="#22a884"/>
<rect x="340" y="204" width="6" height="2" fill="#1f948c"/>
<rect x="346" y="204" width="6" height="2" fill="#25848e"/>
<rect x="352" y="204" width="5" height="2" fill="#27808e"/>
<rect x="357" y="204" width="6" height="2" fill="#25848e"/>
<rect x="363" y="204" width="6" height="2" fill="#1f948c"/>
<rect x="369" y="204" width="5" height="2" fill="#2fb47c"/>
<rect x="374" y="204" width="6" height="2" fill="#7ad151"/>
<rect x="380" y="204" width="6" height="2" fill="#d2e21b"/>
<rect x="386" y="204" width="6" height="2" fill="#dfe318"/>
<rect x="392" y="204" width="5" height="2" fill="#bddf26"/>
<rect x="397" y="204" width="46" height="2" fill="#b2dd2d"/>
<rect x="443" y="204" width="12" height="2" fill="#bddf26"/>
<rect x="455" y="204" width="5" height="2" fill="#c8e020"/>
<rect x="460" y="204" width="6" height="2" fill="#d2e21b"/>
<rect x="466" y="204" width="12" height="2" fill="#dfe318"/>
<rect x="478" y="204" width="11" height="2" fill="#eae51a"/>
<rect x="489" y="204" width="206" height="2" fill="#fde725"/>
<rect x="695" y="204" width="6" height="2" fill="#dfe318"/>
<rect x="701" y="204" width="6" height="2" fill="#86d549"/>
<rect x="707" y="204" width="6" height="2" fill="#1f948c"/>
<rect x="713" y="204" width="5" height="2" fill="#433e85"/>
<rect x="718" y="204" width="6" height="2" fill="#32648e"/>
<rect x="724" y="204" width="6" height="2" fill="#31688e"/>
<rect x="730" y="204" width="6" height="2" fill="#2d708e"/>
<rect x="736" y="204" width="5" height="2" fill="#287c8e"/>
<rect x="741" y="204" width="6" height="2" fill="#25848e"/>
<rect x="747" y="204" width="6" height="2" fill="#21908d"/>
<rect x="753" y="204" width="5" height="2" fill="#1e9c89"/>
<rect x="151" y="206" width="29" height="3" fill="#c8e020"/>
<rect x="180" y="206" width="51" height="3" fill="#d2e21b"/>
<rect x="231" y="206" width="17" height="3" fill="#dfe318"/>
<rect x="248" y="206" width="6" height="3" fill="#f4e61e"/>
<rect x="254" y="206" width="6" height="3" fill="#fde725"/>
<rect x="260" y="206" width="11" height="3" fill="#f4e61e"/>
<rect x="271" y="206" width="12" height="3" fill="#eae51a"/>
<rect x="283" y="206" width="11" height="3" fill="#dfe318"/>
<rect x="294" y="206" width="6" height="3" fill="#d2e21b"/>
<rect x="300" y="206" width="6" height="3" fill="#c8e020"/>
<rect x="306" y="206" width="5" height="3" fill="#b2dd2d"/>
<rect x="311" y="206" width="6" height="3" fill="#9bd93c"/>
<rect x="317" y="206" width="23" height="3" fill="#90d743"/>
<rect x="340" y="206" width="6" height="3" fill="#5cc863"/>
<rect x="346" y="206" width="6" height="3" fill="#2ab07f"/>
<rect x="352" y="206" width="5" height="3" fill="#1f988b"/>
<rect x="357" y="206" width="6" height="3" fill="#25848e"/>
<rect x="363" y="206" width="6" height="3" fill="#27808e"/>
<rect x="369" y="206" width="5" height="3" fill="#25848e"/>
<rect x="374" y="206" width="6" height="3" fill="#1e9c89"/>
<rect x="380" y="206" width="6" height="3" fill="#5cc863"/>
<rect x="386" y="206" width="6" height="3" fill="#dfe318"/>
<rect x="392" y="206" width="5" height="3" fill="#b2dd2d"/>
<rect x="397" y="206" width="41" height="3" fill="#a5db36"/>
<rect x="438" y="206" width="11" height="3" fill="#b2dd2d"/>
<rect x="449" y="206" width="11" height="3" fill="#bddf26"/>
<rect x="460" y="206" width="6" height="3" fill="#c8e020"/>
<rect x="466" y="206" width="6" height="3" fill="#d2e21b"/>
<rect x="472" y="206" width="6" height="3" fill="#dfe318"/>
<rect x="478" y="206" width="11" height="3" fill="#eae51a"/>
<rect x="489" y="206" width="189" height="3" fill="#fde725"/>
<rect x="678" y="206" width="6" height="3" fill="#f4e61e"/>
<rect x="684" y="206" width="6" height="3" fill="#bddf26"/>
<rect x="690" y="206" width="5" height="3" fill="#3bbb75"/>
<rect x="695" y="206" width="6" height="3" fill="#375b8d"/>
<rect x="701" y="206" width="17" height="3" fill="#440154"/>
<rect x="718" y="206" width="6" height="3" fill="#472f7d"/>
<rect x="724" y="206" width="6" height="3" fill="#32648e"/>
<rect x="730" y="206" width="6" height="3" fill="#27808e"/>
<rect x="736" y="206" width="5" height="3" fill="#1fa188"/>
<rect x="741" y="206" width="6" height="3" fill="#2fb47c"/>
<rect x="747" y="206" width="6" height="3" fill="#4cc26c"/>
<rect x="753" y="206" width="5" height="3" fill="#5cc863"/>
<rect x="151" y="209" width="23" height="2" fill="#d2e21b"/>
<rect x="174" y="209" width="6" height="2" fill="#c8e020"/>
<rect x="180" y="209" width="68" height="2" fill="#dfe318"/>
<rect x="248" y="209" width="18" height="2" fill="#fde725"/>
<rect x="266" y="209" width="5" height="2" fill="#f4e61e"/>
<rect x="271" y="209" width="18" height="2" fill="#eae51a"/>
<rect x="289" y="209" width="11" height="2" fill="#dfe318"/>
<rect x="300" y="209" width="6" height="2" fill="#c8e020"/>
<rect x="306" y="209" width="5" height="2" fill="#b2dd2d"/>
<rect x="311" y="209" width="6" height="2" fill="#a5db36"/>
<rect x="317" y="209" width="12" height="2" fill="#9bd93c"/>
<rect x="329" y="209" width="23" height="2" fill="#90d743"/>
<rect x="352" y="209" width="5" height="2" fill="#70cf57"/>
<rect x="357" y="209" width="6" height="2" fill="#2fb47c"/>
<rect x="363" y="209" width="6" height="2" fill="#1f988b"/>
<rect x="369" y="209" width="5" height="2" fill="#25848e"/>
<rect x="374" y="209" width="6" height="2" fill="#27808e"/>
<rect x="380" y="209" width="6" height="2" fill="#1f948c"/>
<rect x="386" y="209" width="6" height="2" fill="#90d743"/>
<rect x="392" y="209" width="5" height="2" fill="#a5db36"/>
<rect x="397" y="209" width="29" height="2" fill="#9bd93c"/>
<rect x="426" y="209" width="17" height="2" fill="#a5db36"/>
<rect x="443" y="209" width="12" height="2" fill="#b2dd2d"/>
<rect x="455" y="209" width="5" height="2" fill="#bddf26"/>
<rect x="460" y="209" width="6" height="2" fill="#c8e020"/>
<rect x="466" y="209" width="6" height="2" fill="#d2e21b"/>
<rect x="472" y="209" width="6" height="2" fill="#dfe318"/>
<rect x="478" y="209" width="11" height="2" fill="#eae51a"/>
<rect x="489" y="209" width="178" height="2" fill="#fde725"/>
<rect x="667" y="209" width="5" height="2" fill="#dfe318"/>
<rect x="672" y="209" width="6" height="2" fill="#7ad151"/>
<rect x="678" y="209" width="6" height="2" fill="#23888e"/>
<rect x="684" y="209" width="23" height="2" fill="#440154"/>
<rect x="707" y="209" width="6" height="2" fill="#46075a"/>
<rect x="713" y="209" width="5" height="2" fill="#443983"/>
<rect x="718" y="209" width="6" height="2" fill="#1e9c89"/>
<rect x="724" y="209" width="6" height="2" fill="#35b779"/>
<rect x="730" y="209" width="6" height="2" fill="#67cc5c"/>
<rect x="736" y="209" width="5" height="2" fill="#90d743"/>
<rect x="741" y="209" width="6" height="2" fill="#b2dd2d"/>
<rect x="747" y="209" width="6" height="2" fill="#bddf26"/>
<rect x="753" y="209" width="5" height="2" fill="#c8e020"/>
<rect x="151" y="211" width="29" height="3" fill="#d2e21b"/>
<rect x="180" y="211" width="68" height="3" fill="#dfe318"/>
<rect x="248" y="211" width="23" height="3" fill="#fde725"/>
<rect x="271" y="211" width="6" height="3" fill="#f4e61e"/>
<rect x="277" y="211" width="12" height="3" fill="#eae51a"/>
<rect x="289" y="211" width="11" height="3" fill="#dfe318"/>
<rect x="300" y="211" width="6" height="3" fill="#c8e020"/>
<rect x="306" y="211" width="5" height="3" fill="#b2dd2d"/>
<rect x="311" y="211" width="6" height="3" fill="#a5db36"/>
<rect x="317" y="211" width="17" height="3" fill="#9bd93c"/>
<rect x="334" y="211" width="29" height="3" fill="#90d743"/>
<rect x="363" y="211" width="6" height="3" fill="#67cc5c"/>
<rect x="369" y="211" width="5" height="3" fill="#2ab07f"/>
<rect x="374" y="211" width="6" height="3" fill="#21908d"/>
<rect x="380" y="211" width="6" height="3" fill="#27808e"/>
<rect x="386" y="211" width="6" height="3" fill="#20a486"/>
<rect x="392" y="211" width="46" height="3" fill="#9bd93c"/>
<rect x="438" y="211" width="11" height="3" fill="#a5db36"/>
<rect x="449" y="211" width="6" height="3" fill="#b2dd2d"/>
<rect x="455" y="211" width="5" height="3" fill="#bddf26"/>
<rect x="460" y="211" width="6" height="3" fill="#c8e020"/>
<rect x="466" y="211" width="6" height="3" fill="#d2e21b"/>
<rect x="472" y="211" width="11" height="3" fill="#dfe318"/>
<rect x="483" y="211" width="6" height="3" fill="#eae51a"/>
<rect x="489" y="211" width="6" height="3" fill="#f4e61e"/>
<rect x="495" y="211" width="149" height="3" fill="#fde725"/>
<rect x="644" y="211" width="6" height="3" fill="#eae51a"/>
<rect x="650" y="211" width="5" height="3" fill="#c8e020"/>
<rect x="655" y="211" width="6" height="3" fill="#70cf57"/>
<rect x="661" y="211" width="6" height="3" fill="#1f948c"/>
<rect x="667" y="211" width="5" height="3" fill="#443983"/>
<rect x="672" y="211" width="18" height="3" fill="#440154"/>
<rect x="690" y="211" width="5" height="3" fill="#2d708e"/>
<rect x="695" y="211" width="6" height="3" fill="#54c568"/>
<rect x="701" y="211" width="6" height="3" fill="#7ad151"/>
<rect x="707" y="211" width="6" height="3" fill="#90d743"/>
<rect x="713" y="211" width="5" height="3" fill="#9bd93c"/>
<rect x="718" y="211" width="6" height="3" fill="#c8e020"/>
<rect x="724" y="211" width="6" height="3" fill="#d2e21b"/>
<rect x="730" y="211" width="6" height="3" fill="#dfe318"/>
<rect x="736" y="211" width="5" height="3" fill="#eae51a"/>
<rect x="741" y="211" width="6" height="3" fill="#f4e61e"/>
<rect x="747" y="211" width="11" height="3" fill="#fde725"/>
<rect x="157" y="214" width="23" height="2" fill="#d2e21b"/>
<rect x="180" y="214" width="63" height="2" fill="#dfe318"/>
<rect x="243" y="214" width="5" height="2" fill="#eae51a"/>
<rect x="248" y="214" width="23" height="2" fill="#fde725"/>
<rect x="271" y="214" width="12" height="2" fill="#f4e61e"/>
<rect x="283" y="214" width="11" height="2" fill="#eae51a"/>
<rect x="294" y="214" width="6" height="2" fill="#dfe318"/>
<rect x="300" y="214" width="6" height="2" fill="#d2e21b"/>
<rect x="306" y="214" width="5" height="2" fill="#bddf26"/>
<rect x="311" y="214" width="6" height="2" fill="#a5db36"/>
<rect x="317" y="214" width="35" height="2" fill="#9bd93c"/>
<rect x="352" y="214" width="22" height="2" fill="#90d743"/>
<rect x="374" y="214" width="6" height="2" fill="#54c568"/>
<rect x="380" y="214" width="6" height="2" fill="#1f988b"/>
<rect x="386" y="214" width="6" height="2" fill="#21908d"/>
<rect x="392" y="214" width="5" height="2" fill="#9bd93c"/>
<rect x="397" y="214" width="23" height="2" fill="#90d743"/>
<rect x="420" y="214" width="23" height="2" fill="#9bd93c"/>
<rect x="443" y="214" width="6" height="2" fill="#a5db36"/>
<rect x="449" y="214" width="11" height="2" fill="#b2dd2d"/>
<rect x="460" y="214" width="6" height="2" fill="#c8e020"/>
<rect x="466" y="214" width="6" height="2" fill="#d2e21b"/>
<rect x="472" y="214" width="11" height="2" fill="#dfe318"/>
<rect x="483" y="214" width="6" height="2" fill="#eae51a"/>
<rect x="489" y="214" width="6" height="2" fill="#f4e61e"/>
<rect x="495" y="214" width="126" height="2" fill="#fde725"/>
<rect x="621" y="214" width="6" height="2" fill="#f4e61e"/>
<rect x="627" y="214" width="5" height="2" fill="#d2e21b"/>
<rect x="632" y="214" width="6" height="2" fill="#9bd93c"/>
<rect x="638" y="214" width="6" height="2" fill="#44bf70"/>
<rect x="644" y="214" width="6" height="2" fill="#2a788e"/>
<rect x="650" y="214" width="5" height="2" fill="#470d60"/>
<rect x="655" y="214" width="17" height="2" fill="#440154"/>
<rect x="672" y="214" width="6" height="2" fill="#433e85"/>
<rect x="678" y="214" width="6" height="2" fill="#25ac82"/>
<rect x="684" y="214" width="6" height="2" fill="#a5db36"/>
<rect x="690" y="214" width="5" height="2" fill="#eae51a"/>
<rect x="695" y="214" width="63" height="2" fill="#fde725"/>
<rect x="157" y="216" width="17" height="2" fill="#dfe318"/>
<rect x="174" y="216" width="6" height="2" fill="#d2e21b"/>
<rect x="180" y="216" width="57" height="2" fill="#dfe318"/>
<rect x="237" y="216" width="11" height="2" fill="#eae51a"/>
<rect x="248" y="216" width="29" height="2" fill="#fde725"/>
<rect x="277" y="216" width="6" height="2" fill="#f4e61e"/>
<rect x="283" y="216" width="17" height="2" fill="#eae51a"/>
<rect x="300" y="216" width="6" height="2" fill="#d2e21b"/>
<rect x="306" y="216" width="5" height="2" fill="#bddf26"/>
<rect x="311" y="216" width="6" height="2" fill="#b2dd2d"/>
<rect x="317" y="216" width="6" height="2" fill="#a5db36"/>
<rect x="323" y="216" width="40" height="2" fill="#9bd93c"/>
<rect x="363" y="216" width="17" height="2" fill="#90d743"/>
<rect x="380" y="216" width="6" height="2" fill="#70cf57"/>
<rect x="386" y="216" width="6" height="2" fill="#2ab07f"/>
<rect x="392" y="216" width="5" height="2" fill="#35b779"/>
<rect x="397" y="216" width="35" height="2" fill="#90d743"/>
<rect x="432" y="216" width="11" height="2" fill="#9bd93c"/>
<rect x="443" y="216" width="12" height="2" fill="#a5db36"/>
<rect x="455" y="216" width="5" height="2" fill="#b2dd2d"/>
<rect x="460" y="216" width="6" height="2" fill="#bddf26"/>
<rect x="466" y="216" width="12" height="2" fill="#d2e21b"/>
<rect x="478" y="216" width="5" height="2" fill="#dfe318"/>
<rect x="483" y="216" width="6" height="2" fill="#eae51a"/>
<rect x="489" y="216" width="6" height="2" fill="#f4e61e"/>
<rect x="495" y="216" width="109" height="2" fill="#fde725"/>
<rect x="604" y="216" width="5" height="2" fill="#dfe318"/>
<rect x="609" y="216" width="6" height="2" fill="#9bd93c"/>
<rect x="615" y="216" width="6" height="2" fill="#44bf70"/>
<rect x="621" y="216" width="6" height="2" fill="#25848e"/>
<rect x="627" y="216" width="5" height="2" fill="#463480"/>
<rect x="632" y="216" width="23" height="2" fill="#440154"/>
<rect x="655" y="216" width="6" height="2" fill="#3d4d8a"/>
<rect x="661" y="216" width="6" height="2" fill="#1fa188"/>
<rect x="667" y="216" width="5" height="2" fill="#7ad151"/>
<rect x="672" y="216" width="6" height="2" fill="#dfe318"/>
<rect x="678" y="216" width="80" height="2" fill="#fde725"/>
<rect x="162" y="218" width="69" height="3" fill="#dfe318"/>
<rect x="231" y="218" width="17" height="3" fill="#eae51a"/>
<rect x="248" y="218" width="35" height="3" fill="#fde725"/>
<rect x="283" y="218" width="17" height="3" fill="#eae51a"/>
<rect x="300" y="218" width="6" height="3" fill="#d2e21b"/>
<rect x="306" y="218" width="5" height="3" fill="#bddf26"/>
<rect x="311" y="218" width="6" height="3" fill="#b2dd2d"/>
<rect x="317" y="218" width="17" height="3" fill="#a5db36"/>
<rect x="334" y="218" width="40" height="3" fill="#9bd93c"/>
<rect x="374" y="218" width="18" height="3" fill="#90d743"/>
<rect x="392" y="218" width="5" height="3" fill="#20a486"/>
<rect x="397" y="218" width="18" height="3" fill="#86d549"/>
<rect x="415" y="218" width="23" height="3" fill="#90d743"/>
<rect x="438" y="218" width="11" height="3" fill="#9bd93c"/>
<rect x="449" y="218" width="6" height="3" fill="#a5db36"/>
<rect x="455" y="218" width="5" height="3" fill="#b2dd2d"/>
<rect x="460" y="218" width="6" height="3" fill="#bddf26"/>
<rect x="466" y="218" width="6" height="3" fill="#c8e020"/>
<rect x="472" y="218" width="6" height="3" fill="#d2e21b"/>
<rect x="478" y="218" width="5" height="3" fill="#dfe318"/>
<rect x="483" y="218" width="6" height="3" fill="#eae51a"/>
<rect x="489" y="218" width="6" height="3" fill="#f4e61e"/>
<rect x="495" y="218" width="86" height="3" fill="#fde725"/>
<rect x="581" y="218" width="6" height="3" fill="#eae51a"/>
<rect x="587" y="218" width="5" height="3" fill="#c8e020"/>
<rect x="592" y="218" width="6" height="3" fill="#70cf57"/>
<rect x="598" y="218" width="6" height="3" fill="#1f988b"/>
<rect x="604" y="218" width="5" height="3" fill="#443983"/>
<rect x="609" y="218" width="23" height="3" fill="#440154"/>
<rect x="632" y="218" width="6" height="3" fill="#471365"/>
<rect x="638" y="218" width="6" height="3" fill="#2d708e"/>
<rect x="644" y="218" width="6" height="3" fill="#35b779"/>
<rect x="650" y="218" width="5" height="3" fill="#a5db36"/>
<rect x="655" y="218" width="6" height="3" fill="#dfe318"/>
<rect x="661" y="218" width="63" height="3" fill="#fde725"/>
<rect x="168" y="221" width="12" height="2" fill="#dfe318"/>
<rect x="180" y="221" width="17" height="2" fill="#eae51a"/>
<rect x="197" y="221" width="28" height="2" fill="#dfe318"/>
<rect x="225" y="221" width="23" height="2" fill="#eae51a"/>
<rect x="248" y="221" width="35" height="2" fill="#fde725"/>
<rect x="283" y="221" width="6" height="2" fill="#f4e61e"/>
<rect x="289" y="221" width="11" height="2" fill="#eae51a"/>
<rect x="300" y="221" width="6" height="2" fill="#dfe318"/>
<rect x="306" y="221" width="5" height="2" fill="#c8e020"/>
<rect x="311" y="221" width="6" height="2" fill="#b2dd2d"/>
<rect x="317" y="221" width="29" height="2" fill="#a5db36"/>
<rect x="346" y="221" width="34" height="2" fill="#9bd93c"/>
<rect x="380" y="221" width="6" height="2" fill="#90d743"/>
<rect x="386" y="221" width="6" height="2" fill="#9bd93c"/>
<rect x="392" y="221" width="5" height="2" fill="#70cf57"/>
<rect x="397" y="221" width="23" height="2" fill="#86d549"/>
<rect x="420" y="221" width="23" height="2" fill="#90d743"/>
<rect x="443" y="221" width="6" height="2" fill="#9bd93c"/>
<rect x="449" y="221" width="6" height="2" fill="#a5db36"/>
<rect x="455" y="221" width="5" height="2" fill="#b2dd2d"/>
<rect x="460" y="221" width="6" height="2" fill="#bddf26"/>
<rect x="466" y="221" width="6" height="2" fill="#c8e020"/>
<rect x="472" y="221" width="6" height="2" fill="#d2e21b"/>
<rect x="478" y="221" width="5" height="2" fill="#dfe318"/>
<rect x="483" y="221" width="6" height="2" fill="#eae51a"/>
<rect x="489" y="221" width="6" height="2" fill="#f4e61e"/>
<rect x="495" y="221" width="74" height="2" fill="#fde725"/>
<rect x="569" y="221" width="6" height="2" fill="#dfe318"/>
<rect x="575" y="221" width="6" height="2" fill="#54c568"/>
<rect x="581" y="221" width="6" height="2" fill="#2a788e"/>
<rect x="587" y="221" width="5" height="2" fill="#46075a"/>
<rect x="592" y="221" width="17" height="2" fill="#440154"/>
<rect x="609" y="221" width="6" height="2" fill="#481a6c"/>
<rect x="615" y="221" width="6" height="2" fill="#2b748e"/>
<rect x="621" y="221" width="6" height="2" fill="#2ab07f"/>
<rect x="627" y="221" width="5" height="2" fill="#86d549"/>
<rect x="632" y="221" width="6" height="2" fill="#c8e020"/>
<rect x="638" y="221" width="6" height="2" fill="#eae51a"/>
<rect x="644" y="221" width="46" height="2" fill="#fde725"/>
<rect x="180" y="223" width="68" height="3" fill="#eae51a"/>
<rect x="248" y="223" width="41" height="3" fill="#fde725"/>
<rect x="289" y="223" width="5" height="3" fill="#f4e61e"/>
<rect x="294" y="223" width="6" height="3" fill="#eae51a"/>
<rect x="300" y="223" width="6" height="3" fill="#dfe318"/>
<rect x="306" y="223" width="5" height="3" fill="#c8e020"/>
<rect x="311" y="223" width="6" height="3" fill="#b2dd2d"/>
<rect x="317" y="223" width="40" height="3" fill="#a5db36"/>
<rect x="357" y="223" width="35" height="3" fill="#9bd93c"/>
<rect x="392" y="223" width="5" height="3" fill="#a5db36"/>
<rect x="397" y="223" width="6" height="3" fill="#22a884"/>
<rect x="403" y="223" width="23" height="3" fill="#86d549"/>
<rect x="426" y="223" width="17" height="3" fill="#90d743"/>
<rect x="443" y="223" width="6" height="3" fill="#9bd93c"/>
<rect x="449" y="223" width="6" height="3" fill="#a5db36"/>
<rect x="455" y="223" width="5" height="3" fill="#b2dd2d"/>
<rect x="460" y="223" width="6" height="3" fill="#bddf26"/>
<rect x="466" y="223" width="6" height="3" fill="#c8e020"/>
<rect x="472" y="223" width="6" height="3" fill="#d2e21b"/>
<rect x="478" y="223" width="5" height="3" fill="#dfe318"/>
<rect x="483" y="223" width="6" height="3" fill="#eae51a"/>
<rect x="489" y="223" width="6" height="3" fill="#f4e61e"/>
<rect x="495" y="223" width="40" height="3" fill="#fde725"/>
<rect x="535" y="223" width="6" height="3" fill="#eae51a"/>
<rect x="541" y="223" width="5" height="3" fill="#d2e21b"/>
<rect x="546" y="223" width="6" height="3" fill="#bddf26"/>
<rect x="552" y="223" width="6" height="3" fill="#a5db36"/>
<rect x="558" y="223" width="6" height="3" fill="#7ad151"/>
<rect x="564" y="223" width="5" height="3" fill="#22a884"/>
<rect x="569" y="223" width="6" height="3" fill="#443983"/>
<rect x="575" y="223" width="17" height="3" fill="#440154"/>
<rect x="592" y="223" width="6" height="3" fill="#3b518b"/>
<rect x="598" y="223" width="6" height="3" fill="#20a486"/>
<rect x="604" y="223" width="5" height="3" fill="#86d549"/>
<rect x="609" y="223" width="6" height="3" fill="#d2e21b"/>
<rect x="615" y="223" width="6" height="3" fill="#eae51a"/>
<rect x="621" y="223" width="34" height="3" fill="#fde725"/>
<rect x="180" y="226" width="68" height="2" fill="#eae51a"/>
<rect x="248" y="226" width="41" height="2" fill="#fde725"/>
<rect x="289" y="226" width="5" height="2" fill="#f4e61e"/>
<rect x="294" y="226" width="6" height="2" fill="#eae51a"/>
<rect x="300" y="226" width="6" height="2" fill="#dfe318"/>
<rect x="306" y="226" width="5" height="2" fill="#c8e020"/>
<rect x="311" y="226" width="6" height="2" fill="#bddf26"/>
<rect x="317" y="226" width="12" height="2" fill="#b2dd2d"/>
<rect x="329" y="226" width="40" height="2" fill="#a5db36"/>
<rect x="369" y="226" width="23" height="2" fill="#9bd93c"/>
<rect x="392" y="226" width="5" height="2" fill="#a5db36"/>
<rect x="397" y="226" width="6" height="2" fill="#5cc863"/>
<rect x="403" y="226" width="6" height="2" fill="#7ad151"/>
<rect x="409" y="226" width="17" height="2" fill="#86d549"/>
<rect x="426" y="226" width="17" height="2" fill="#90d743"/>
<rect x="443" y="226" width="6" height="2" fill="#9bd93c"/>
<rect x="449" y="226" width="6" height="2" fill="#a5db36"/>
<rect x="455" y="226" width="5" height="2" fill="#b2dd2d"/>
<rect x="460" y="226" width="6" height="2" fill="#bddf26"/>
<rect x="466" y="226" width="6" height="2" fill="#c8e020"/>
<rect x="472" y="226" width="6" height="2" fill="#d2e21b"/>
<rect x="478" y="226" width="5" height="2" fill="#dfe318"/>
<rect x="483" y="226" width="6" height="2" fill="#eae51a"/>
<rect x="489" y="226" width="6" height="2" fill="#f4e61e"/>
<rect x="495" y="226" width="23" height="2" fill="#fde725"/>
<rect x="518" y="226" width="5" height="2" fill="#eae51a"/>
<rect x="523" y="226" width="6" height="2" fill="#86d549"/>
<rect x="529" y="226" width="6" height="2" fill="#20a486"/>
<rect x="535" y="226" width="6" height="2" fill="#31688e"/>
<rect x="541" y="226" width="5" height="2" fill="#482979"/>
<rect x="546" y="226" width="29" height="2" fill="#440154"/>
<rect x="575" y="226" width="6" height="2" fill="#31688e"/>
<rect x="581" y="226" width="6" height="2" fill="#44bf70"/>
<rect x="587" y="226" width="5" height="2" fill="#a5db36"/>
<rect x="592" y="226" width="6" height="2" fill="#dfe318"/>
<rect x="598" y="226" width="34" height="2" fill="#fde725"/>
<rect x="180" y="228" width="68" height="2" fill="#eae51a"/>
<rect x="248" y="228" width="149" height="2" fill="#fde725"/>
<rect x="397" y="228" width="6" height="2" fill="#eae51a"/>
<rect x="403" y="228" width="6" height="2" fill="#1f988b"/>
<rect x="409" y="228" width="6" height="2" fill="#44bf70"/>
<rect x="415" y="228" width="11" height="2" fill="#7ad151"/>
<rect x="426" y="228" width="6" height="2" fill="#67cc5c"/>
<rect x="432" y="228" width="57" height="2" fill="#35b779"/>
<rect x="489" y="228" width="29" height="2" fill="#2fb47c"/>
<rect x="518" y="228" width="5" height="2" fill="#2d708e"/>
<rect x="523" y="228" width="29" height="2" fill="#440154"/>
<rect x="552" y="228" width="6" height="2" fill="#471365"/>
<rect x="558" y="228" width="6" height="2" fill="#3f4889"/>
<rect x="564" y="228" width="5" height="2" fill="#1f988b"/>
<rect x="180" y="230" width="57" height="3" fill="#eae51a"/>
<rect x="352" y="230" width="51" height="3" fill="#fde725"/>
<rect x="403" y="230" width="6" height="3" fill="#7ad151"/>
<rect x="409" y="230" width="6" height="3" fill="#21908d"/>
<rect x="415" y="230" width="5" height="3" fill="#2d708e"/>
<rect x="420" y="230" width="6" height="3" fill="#375b8d"/>
<rect x="426" y="230" width="6" height="3" fill="#3f4889"/>
<rect x="432" y="230" width="91" height="3" fill="#440154"/>
<rect x="523" y="230" width="6" height="3" fill="#3b518b"/>
<rect x="529" y="230" width="6" height="3" fill="#1fa188"/>
<rect x="535" y="230" width="6" height="3" fill="#5cc863"/>
<rect x="541" y="230" width="5" height="3" fill="#9bd93c"/>
<rect x="546" y="230" width="6" height="3" fill="#bddf26"/>
<rect x="552" y="230" width="6" height="3" fill="#c8e020"/>
<rect x="558" y="230" width="6" height="3" fill="#dfe318"/>
<rect x="180" y="233" width="34" height="2" fill="#eae51a"/>
<rect x="369" y="233" width="40" height="2" fill="#fde725"/>
<rect x="409" y="233" width="6" height="2" fill="#d2e21b"/>
<rect x="415" y="233" width="5" height="2" fill="#90d743"/>
<rect x="420" y="233" width="6" height="2" fill="#7ad151"/>
<rect x="426" y="233" width="6" height="2" fill="#67cc5c"/>
<rect x="432" y="233" width="57" height="2" fill="#35b779"/>
<rect x="489" y="233" width="29" height="2" fill="#2fb47c"/>
<rect x="191" y="235" width="12" height="3" fill="#eae51a"/>
</g>
<g stroke="#b0b0b0" stroke-width="1" shape-rendering="crispEdges">
<line x1="154.5" y1="60" x2="154.5" y2="420"/><line x1="181.5" y1="60" x2="181.5" y2="420"/><line x1="200.5" y1="60" x2="200.5" y2="420"/><line x1="214.5" y1="60" x2="214.5" y2="420"/><line x1="227.5" y1="60" x2="227.5" y2="420"/><line x1="237.5" y1="60" x2="237.5" y2="420"/><line x1="246.5" y1="60" x2="246.5" y2="420"/><line x1="253.5" y1="60" x2="253.5" y2="420"/><line x1="260.5" y1="60" x2="260.5" y2="420"/><line x1="306.5" y1="60" x2="306.5" y2="420"/><line x1="333.5" y1="60" x2="333.5" y2="420"/><line x1="352.5" y1="60" x2="352.5" y2="420"/><line x1="367.5" y1="60" x2="367.5" y2="420"/><line x1="379.5" y1="60" x2="379.5" y2="420"/><line x1="389.5" y1="60" x2="389.5" y2="420"/><line x1="398.5" y1="60" x2="398.5" y2="420"/><line x1="406.5" y1="60" x2="406.5" y2="420"/><line x1="413.5" y1="60" x2="413.5" y2="420"/><line x1="458.5" y1="60" x2="458.5" y2="420"/><line x1="485.5" y1="60" x2="485.5" y2="420"/><line x1="504.5" y1="60" x2="504.5" y2="420"/><line x1="519.5" y1="60" x2="519.5" y2="420"/><line x1="531.5" y1="60" x2="531.5" y2="420"/><line x1="541.5" y1="60" x2="541.5" y2="420"/><line x1="550.5" y1="60" x2="550.5" y2="420"/><line x1="558.5" y1="60" x2="558.5" y2="420"/><line x1="565.5" y1="60" x2="565.5" y2="420"/><line x1="611.5" y1="60" x2="611.5" y2="420"/><line x1="638.5" y1="60" x2="638.5" y2="420"/><line x1="657.5" y1="60" x2="657.5" y2="420"/><line x1="671.5" y1="60" x2="671.5" y2="420"/><line x1="683.5" y1="60" x2="683.5" y2="420"/><line x1="694.5" y1="60" x2="694.5" y2="420"/><line x1="702.5" y1="60" x2="702.5" y2="420"/><line x1="710.5" y1="60" x2="710.5" y2="420"/><line x1="717.5" y1="60" x2="717.5" y2="420"/><line x1="108" y1="372.5" x2="756" y2="372.5"/><line x1="108" y1="324.5" x2="756" y2="324.5"/><line x1="108" y1="276.5" x2="756" y2="276.5"/><line x1="108" y1="228.5" x2="756" y2="228.5"/><line x1="108" y1="180.5" x2="756" y2="180.5"/><line x1="108" y1="132.5" x2="756" y2="132.5"/><line x1="108" y1="84.5" x2="756" y2="84.5"/></g>
<polyline clip-path="url(#axclip)" points="260.30,159.60 312.45,173.76 337.23,205.20 397.84,228.00 500.90,175.20 513.54,171.60 534.34,182.40 549.31,212.40 593.46,228.00 610.75,272.40 800.96,242.40" fill="none" stroke="#666666" stroke-width="2.78" stroke-linejoin="round" stroke-linecap="butt"/>
<polyline clip-path="url(#axclip)" points="260.30,343.20 295.40,340.08 351.99,340.08 397.84,346.08 426.83,332.88 470.51,296.64 509.08,278.64 519.05,278.64 531.11,297.60 564.90,333.12 576.96,338.88 594.31,329.04 616.75,366.00 641.00,384.00 664.38,390.00 693.61,390.00 717.86,384.00 745.76,384.00 795.77,390.00" fill="none" stroke="#666666" stroke-width="2.78" stroke-linejoin="round" stroke-linecap="butt"/>
<g stroke="#000" stroke-width="1" shape-rendering="crispEdges" fill="none">
<rect x="108.5" y="60.5" width="648" height="360"/><line x1="108.5" y1="420.5" x2="108.5" y2="426.0"/><line x1="154.5" y1="420.5" x2="154.5" y2="424.0"/><line x1="181.5" y1="420.5" x2="181.5" y2="424.0"/><line x1="200.5" y1="420.5" x2="200.5" y2="424.0"/><line x1="214.5" y1="420.5" x2="214.5" y2="424.0"/><line x1="227.5" y1="420.5" x2="227.5" y2="424.0"/><line x1="237.5" y1="420.5" x2="237.5" y2="424.0"/><line x1="246.5" y1="420.5" x2="246.5" y2="424.0"/><line x1="253.5" y1="420.5" x2="253.5" y2="424.0"/><line x1="260.5" y1="420.5" x2="260.5" y2="426.0"/><line x1="306.5" y1="420.5" x2="306.5" y2="424.0"/><line x1="333.5" y1="420.5" x2="333.5" y2="424.0"/><line x1="352.5" y1="420.5" x2="352.5" y2="424.0"/><line x1="367.5" y1="420.5" x2="367.5" y2="424.0"/><line x1="379.5" y1="420.5" x2="379.5" y2="424.0"/><line x1="389.5" y1="420.5" x2="389.5" y2="424.0"/><line x1="398.5" y1="420.5" x2="398.5" y2="424.0"/><line x1="406.5" y1="420.5" x2="406.5" y2="424.0"/><line x1="413.5" y1="420.5" x2="413.5" y2="426.0"/><line x1="458.5" y1="420.5" x2="458.5" y2="424.0"/><line x1="485.5" y1="420.5" x2="485.5" y2="424.0"/><line x1="504.5" y1="420.5" x2="504.5" y2="424.0"/><line x1="519.5" y1="420.5" x2="519.5" y2="424.0"/><line x1="531.5" y1="420.5" x2="531.5" y2="424.0"/><line x1="541.5" y1="420.5" x2="541.5" y2="424.0"/><line x1="550.5" y1="420.5" x2="550.5" y2="424.0"/><line x1="558.5" y1="420.5" x2="558.5" y2="424.0"/><line x1="565.5" y1="420.5" x2="565.5" y2="426.0"/><line x1="611.5" y1="420.5" x2="611.5" y2="424.0"/><line x1="638.5" y1="420.5" x2="638.5" y2="424.0"/><line x1="657.5" y1="420.5" x2="657.5" y2="424.0"/><line x1="671.5" y1="420.5" x2="671.5" y2="424.0"/><line x1="683.5" y1="420.5" x2="683.5" y2="424.0"/><line x1="694.5" y1="420.5" x2="694.5" y2="424.0"/><line x1="702.5" y1="420.5" x2="702.5" y2="424.0"/><line x1="710.5" y1="420.5" x2="710.5" y2="424.0"/><line x1="717.5" y1="420.5" x2="717.5" y2="426.0"/><line x1="103.5" y1="420.5" x2="108.5" y2="420.5"/><line x1="103.5" y1="372.5" x2="108.5" y2="372.5"/><line x1="103.5" y1="324.5" x2="108.5" y2="324.5"/><line x1="103.5" y1="276.5" x2="108.5" y2="276.5"/><line x1="103.5" y1="228.5" x2="108.5" y2="228.5"/><line x1="103.5" y1="180.5" x2="108.5" y2="180.5"/><line x1="103.5" y1="132.5" x2="108.5" y2="132.5"/><line x1="103.5" y1="84.5" x2="108.5" y2="84.5"/></g>
<text x="121.60" y="51.70" textLength="93.00" lengthAdjust="spacingAndGlyphs">HI.KLR1..HNZ</text>
<text x="218.97" y="51.70" textLength="4.62" lengthAdjust="spacingAndGlyphs">|</text>
<text x="227.97" y="51.70" textLength="57.25" lengthAdjust="spacingAndGlyphs">100.0Hz</text>
<text x="289.60" y="51.70" textLength="4.62" lengthAdjust="spacingAndGlyphs">|</text>
<text x="298.60" y="51.70" textLength="150.50" lengthAdjust="spacingAndGlyphs">2020-01-07T10:49:08</text>
<text x="453.48" y="51.70" textLength="4.88" lengthAdjust="spacingAndGlyphs">-</text>
<text x="462.73" y="51.70" textLength="150.25" lengthAdjust="spacingAndGlyphs">2025-12-13T22:30:05</text>
<text x="617.35" y="51.70" textLength="4.62" lengthAdjust="spacingAndGlyphs">|</text>
<text x="626.35" y="51.70" textLength="43.88" lengthAdjust="spacingAndGlyphs">73637</text>
<text x="674.60" y="51.70" textLength="67.88" lengthAdjust="spacingAndGlyphs">segments</text>
<text x="92.62" y="440.70" textLength="30.75" lengthAdjust="spacingAndGlyphs">0.01</text>
<text x="249.30" y="440.70" textLength="22.00" lengthAdjust="spacingAndGlyphs">0.1</text>
<text x="408.16" y="440.70" textLength="8.88" lengthAdjust="spacingAndGlyphs">1</text>
<text x="556.09" y="440.70" textLength="17.62" lengthAdjust="spacingAndGlyphs">10</text>
<text x="704.01" y="440.70" textLength="26.38" lengthAdjust="spacingAndGlyphs">100</text>
<text x="399.10" y="460.30" textLength="65.88" lengthAdjust="spacingAndGlyphs">Period [s]</text>
<text x="60.30" y="425.50" textLength="38.00" lengthAdjust="spacingAndGlyphs">−200</text>
<text x="60.30" y="377.50" textLength="38.00" lengthAdjust="spacingAndGlyphs">−180</text>
<text x="60.30" y="329.50" textLength="38.00" lengthAdjust="spacingAndGlyphs">−160</text>
<text x="60.30" y="281.50" textLength="38.00" lengthAdjust="spacingAndGlyphs">−140</text>
<text x="60.30" y="233.50" textLength="38.00" lengthAdjust="spacingAndGlyphs">−120</text>
<text x="60.30" y="185.50" textLength="38.00" lengthAdjust="spacingAndGlyphs">−100</text>
<text x="69.05" y="137.50" textLength="29.25" lengthAdjust="spacingAndGlyphs">−80</text>
<text x="69.05" y="89.50" textLength="29.25" lengthAdjust="spacingAndGlyphs">−60</text>
<g transform="translate(46.6,331.4) rotate(-90)"><text x="0" y="0" textLength="81.1" lengthAdjust="spacingAndGlyphs">Amplitude [</text><text x="81.50" y="0.00" font-style="italic" textLength="12.60" lengthAdjust="spacingAndGlyphs">m</text><text x="95.60" y="-5.20" font-style="italic" font-size="10px" textLength="5.60" lengthAdjust="spacingAndGlyphs">2</text><text x="102.60" y="0.00" font-style="italic" textLength="5.20" lengthAdjust="spacingAndGlyphs">/</text><text x="108.60" y="0.00" font-style="italic" textLength="6.20" lengthAdjust="spacingAndGlyphs">s</text><text x="115.60" y="-5.20" font-style="italic" font-size="10px" textLength="5.60" lengthAdjust="spacingAndGlyphs">4</text><text x="122.00" y="0.00" font-style="italic" textLength="5.20" lengthAdjust="spacingAndGlyphs">/</text><text x="127.80" y="0.00" font-style="italic" textLength="9.40" lengthAdjust="spacingAndGlyphs">H</text><text x="137.60" y="0.00" font-style="italic" textLength="7.00" lengthAdjust="spacingAndGlyphs">z</text><text x="145.4" y="0" textLength="37.4" lengthAdjust="spacingAndGlyphs">] [dB]</text></g>
<rect x="798" y="60" width="18" height="360" fill="url(#cbg)"/>
<g stroke="#000" stroke-width="1" shape-rendering="crispEdges" fill="none"><rect x="797.5" y="60.5" width="18" height="360"/><line x1="815.5" y1="420.5" x2="821" y2="420.5"/><line x1="815.5" y1="360.5" x2="821" y2="360.5"/><line x1="815.5" y1="300.5" x2="821" y2="300.5"/><line x1="815.5" y1="240.5" x2="821" y2="240.5"/><line x1="815.5" y1="180.5" x2="821" y2="180.5"/><line x1="815.5" y1="120.5" x2="821" y2="120.5"/><line x1="815.5" y1="60.5" x2="821" y2="60.5"/></g>
<text x="825.10" y="425.50" textLength="8.80" lengthAdjust="spacingAndGlyphs">0</text>
<text x="825.10" y="365.50" textLength="8.80" lengthAdjust="spacingAndGlyphs">5</text>
<text x="825.10" y="305.50" textLength="17.50" lengthAdjust="spacingAndGlyphs">10</text>
<text x="825.10" y="245.50" textLength="17.50" lengthAdjust="spacingAndGlyphs">15</text>
<text x="825.10" y="185.50" textLength="17.50" lengthAdjust="spacingAndGlyphs">20</text>
<text x="825.10" y="125.50" textLength="17.50" lengthAdjust="spacingAndGlyphs">25</text>
<text x="825.10" y="65.50" textLength="17.50" lengthAdjust="spacingAndGlyphs">30</text>
<g transform="translate(859.2,252.1) rotate(-90)"><text x="0" y="0" textLength="24.1" lengthAdjust="spacingAndGlyphs">[%]</text></g>
<g shape-rendering="crispEdges">
<rect x="164" y="474" width="276" height="10" fill="#008000"/><rect x="164" y="484" width="276" height="14" fill="#0000ff"/><rect x="565" y="474" width="171" height="10" fill="#008000"/><rect x="565" y="484" width="171" height="14" fill="#0000ff"/><rect x="197" y="474" width="1" height="24" fill="#fff"/><rect x="221" y="474" width="1" height="24" fill="#fff"/><rect x="260" y="474" width="1" height="24" fill="#fff"/><rect x="314" y="474" width="1" height="24" fill="#fff"/><rect x="350" y="474" width="1" height="24" fill="#fff"/><rect x="362" y="474" width="3" height="24" fill="#fff"/><rect x="377" y="474" width="1" height="24" fill="#fff"/><rect x="390" y="474" width="2" height="24" fill="#fff"/><rect x="398" y="474" width="1" height="24" fill="#fff"/><rect x="604" y="474" width="1" height="24" fill="#fff"/><rect x="641" y="474" width="1" height="24" fill="#fff"/><rect x="686" y="474" width="1" height="24" fill="#fff"/><rect x="702" y="474" width="1" height="24" fill="#fff"/><rect x="714" y="474" width="3" height="24" fill="#fff"/><rect x="172" y="484" width="1" height="14" fill="#fff"/><rect x="186" y="484" width="1" height="14" fill="#fff"/><rect x="237" y="484" width="1" height="14" fill="#fff"/><rect x="302" y="484" width="1" height="14" fill="#fff"/><rect x="367" y="484" width="1" height="14" fill="#fff"/><rect x="432" y="484" width="1" height="14" fill="#fff"/></g>
<g stroke="#000" stroke-width="1" shape-rendering="crispEdges" fill="none"><rect x="135.5" y="474.5" width="630" height="24"/><line x1="162.5" y1="498.5" x2="162.5" y2="504"/><line x1="259.5" y1="498.5" x2="259.5" y2="504"/><line x1="355.5" y1="498.5" x2="355.5" y2="504"/><line x1="452.5" y1="498.5" x2="452.5" y2="504"/><line x1="548.5" y1="498.5" x2="548.5" y2="504"/><line x1="645.5" y1="498.5" x2="645.5" y2="504"/><line x1="741.5" y1="498.5" x2="741.5" y2="504"/></g>
<g transform="translate(144.15,522.90) rotate(-30)"><text x="0" y="4.2" text-anchor="middle" textLength="35" lengthAdjust="spacingAndGlyphs">2020</text></g>
<g transform="translate(240.86,522.90) rotate(-30)"><text x="0" y="4.2" text-anchor="middle" textLength="35" lengthAdjust="spacingAndGlyphs">2021</text></g>
<g transform="translate(337.30,522.90) rotate(-30)"><text x="0" y="4.2" text-anchor="middle" textLength="35" lengthAdjust="spacingAndGlyphs">2022</text></g>
<g transform="translate(433.75,522.90) rotate(-30)"><text x="0" y="4.2" text-anchor="middle" textLength="35" lengthAdjust="spacingAndGlyphs">2023</text></g>
<g transform="translate(530.19,522.90) rotate(-30)"><text x="0" y="4.2" text-anchor="middle" textLength="35" lengthAdjust="spacingAndGlyphs">2024</text></g>
<g transform="translate(626.90,522.90) rotate(-30)"><text x="0" y="4.2" text-anchor="middle" textLength="35" lengthAdjust="spacingAndGlyphs">2025</text></g>
<g transform="translate(723.34,522.90) rotate(-30)"><text x="0" y="4.2" text-anchor="middle" textLength="35" lengthAdjust="spacingAndGlyphs">2026</text></g>
<rect x="0" y="577" width="900" height="23" fill="#808080"/>
<text x="9.20" y="595.20" textLength="73.75" lengthAdjust="spacingAndGlyphs" style="fill:#fff">Generated</text>
<text x="87.33" y="595.20" textLength="17.12" lengthAdjust="spacingAndGlyphs" style="fill:#fff">by</text>
<text x="108.83" y="595.20" textLength="62.50" lengthAdjust="spacingAndGlyphs" style="fill:#fff">SeedPSD</text>
<text x="175.70" y="595.20" textLength="17.25" lengthAdjust="spacingAndGlyphs" style="fill:#fff">on</text>
<text x="197.32" y="595.20" textLength="80.00" lengthAdjust="spacingAndGlyphs" style="fill:#fff">2025-12-15</text>
<text x="281.70" y="595.20" textLength="4.62" lengthAdjust="spacingAndGlyphs" style="fill:#fff">|</text>
<text x="290.70" y="595.20" textLength="84.88" lengthAdjust="spacingAndGlyphs" style="fill:#fff">Calculations</text>
<text x="379.95" y="595.20" textLength="58.00" lengthAdjust="spacingAndGlyphs" style="fill:#fff">updated</text>
<text x="442.32" y="595.20" textLength="17.25" lengthAdjust="spacingAndGlyphs" style="fill:#fff">on</text>
<text x="463.95" y="595.20" textLength="80.00" lengthAdjust="spacingAndGlyphs" style="fill:#fff">2025-12-14</text>
</svg>
</body></html>
